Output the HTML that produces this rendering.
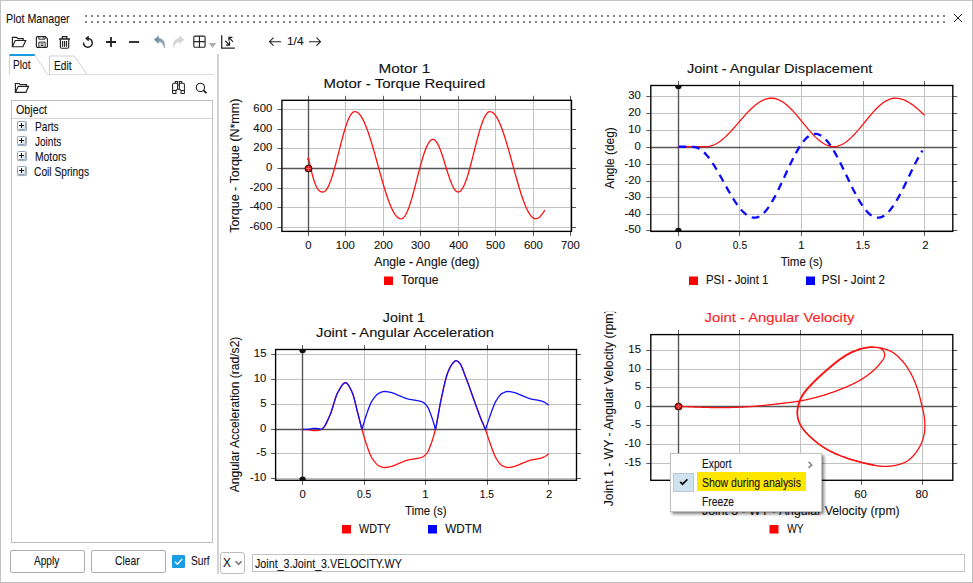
<!DOCTYPE html>
<html lang="en">
<head>
<meta charset="utf-8">
<title>Plot Manager</title>
<style>
html,body{margin:0;padding:0;}
body{width:973px;height:583px;background:#fff;position:relative;overflow:hidden;font-family:"Liberation Sans", Arial, sans-serif;font-size:11.5px;color:#0c0c28;}
.abs{position:absolute;}
.t{position:absolute;white-space:nowrap;line-height:14px;height:14px;transform-origin:0 0;color:#101018;-webkit-text-stroke:0.1px #101018;}
#win{position:absolute;left:0;top:0;width:971px;height:581px;border:1px solid #c4c4c4;border-right-color:#bbb;border-bottom-color:#bbb;}
#charts{position:absolute;left:0;top:0;}
#charts text{font-family:"Liberation Sans", Arial, sans-serif;stroke-width:0.1px;}
#tree{position:absolute;left:11px;top:100px;width:200px;height:441px;border:1px solid #bfbfbf;background:#fff;}
#tree .hdr{position:absolute;left:0;top:0;right:0;height:17px;border-bottom:1px solid #d6d6d6;}
.exp{position:absolute;left:17px;width:7px;height:7px;border:1px solid #93a4b7;border-radius:1.5px;background:linear-gradient(135deg,#fff 35%,#d3dbe4);box-shadow:0.6px 0.8px 0.8px rgba(80,100,125,0.55);}
.exp:before{content:"";position:absolute;left:1px;top:3px;width:5px;height:1px;background:#111;}
.exp:after{content:"";position:absolute;left:3px;top:1px;width:1px;height:5px;background:#111;}
.btn{position:absolute;top:550px;height:21px;width:73px;border:1px solid #adadad;border-radius:2px;background:#fff;}
#split{position:absolute;left:217px;top:54px;width:2px;height:520px;background:#d4d4d4;}
#menu{position:absolute;left:670px;top:453px;width:150px;height:57px;border:1px solid #c2c2c2;background:#fff;box-shadow:2px 2px 3px rgba(0,0,0,0.5);}
</style>
</head>
<body>
<div id="win"></div>
<svg class="abs" style="left:85px;top:15px" width="862" height="8"><defs><pattern id="gp" width="6" height="6" patternUnits="userSpaceOnUse"><rect width="2" height="2" fill="#858585"/></pattern></defs><rect width="860" height="8" fill="url(#gp)"/></svg>
<svg class="abs" style="left:952px;top:12px" width="12" height="12" viewBox="0 0 12 12"><path d="M2 2 L10 10 M10 2 L2 10" stroke="#222" stroke-width="1" fill="none"/></svg>

<!-- toolbar -->
<svg id="toolbar" class="abs" style="left:0;top:30px" width="340" height="24" viewBox="0 30 340 24" fill="none" stroke="#222" stroke-width="1.2">
  <defs><linearGradient id="ug" x1="0" y1="0" x2="1" y2="1"><stop offset="0" stop-color="#5f7f92"/><stop offset="1" stop-color="#a9bcc8"/></linearGradient></defs>
  <!-- open folder -->
  <path d="M12.4 46.7 V37.3 H16.8 L17.8 38.6 H23.2 V40.4 M12.4 46.7 L15.2 40.5 H25.7 L22.9 46.7 Z" stroke-width="1.15"/>
  <!-- save -->
  <path d="M37.4 36.6 H45.3 L47.4 38.7 V46.3 Q47.4 47.3 46.4 47.3 H37.4 Q36.4 47.3 36.4 46.3 V37.6 Q36.4 36.6 37.4 36.6 Z " stroke-width="1.15"/>
  <path d="M38.9 36.6 V39.2 H45.1 V36.6 M43.3 37.2 V38.5 M38.9 47.3 V42.1 H45.1 V47.3 M40.6 43.9 H43.5 M40.6 45.5 H43.5" stroke-width="0.95"/>
  <!-- trash -->
  <path d="M59 39 H70 M62.4 38.6 V36.6 H66.8 V38.6" stroke-width="1.3"/>
  <path d="M60.4 39.3 V47 Q60.4 48.2 61.6 48.2 H67.5 Q68.7 48.2 68.7 47 V39.3 M62.6 41 V46.7 M64.55 41 V46.7 M66.5 41 V46.7" stroke-width="1.15"/>
  <!-- reset -->
  <path d="M87.9 38.4 A4.4 4.4 0 1 1 83.5 42.5" stroke-width="1.5"/><path d="M88.4 36.2 L85.6 38.5 L88.4 40.8 Z" stroke-width="0.8" fill="#222"/>
  <!-- plus -->
  <path d="M106 42 H116 M111 37 V47" stroke-width="1.8"/>
  <!-- minus -->
  <path d="M129 42 H139.2" stroke-width="1.8"/>
  <!-- undo -->
  <path d="M154.2 39.7 L158.6 36 V38.4 Q165.6 38.6 164.4 47.6 Q162.8 41.6 158.6 41.3 V43.5 Z" fill="url(#ug)" stroke="#6f8797" stroke-width="0.5"/>
  <!-- redo -->
  <path d="M183.9 39.7 L179.5 36 V38.4 Q172.5 38.6 173.7 47.6 Q175.3 41.6 179.5 41.3 V43.5 Z" fill="#d4d4d4" stroke="#cfcfcf" stroke-width="0.5"/>
  <!-- grid -->
  <rect x="193.8" y="36.1" width="11.3" height="11.1" rx="1.3" stroke-width="1.1"/>
  <path d="M199.45 36.1 V47.2 M193.8 41.65 H205.1" stroke-width="1.1"/>
  <path d="M208.9 42.9 H216.2 L212.55 47.9 Z" fill="#adadad" stroke="none"/>
  <!-- axis/fit -->
  <path d="M221.7 35.2 V48 H234.8" stroke-width="1.25"/>
  <path d="M233 41.8 L229 37.4 M232.4 37.3 H228.9 V40.8 M225.3 40.9 L229.4 45 M226 45.1 H229.5 V41.6" stroke-width="1.2"/>
  <!-- arrows -->
  <path d="M269.5 41.7 H281 M273.5 37.7 L269.5 41.7 L273.5 45.7" stroke-width="1.1"/>
  <path d="M309 41.7 H320.5 M316.5 37.7 L320.5 41.7 L316.5 45.7" stroke-width="1.1"/>
</svg>

<!-- tabs -->
<svg class="abs" style="left:0;top:52px" width="220" height="26" viewBox="0 52 220 26" fill="none">
  <path d="M47 74.5 H214" stroke="#dcdcdc" stroke-width="1"/>
  <path d="M49.5 74.5 V56 H74.4 L87 74.5" stroke="#d0d0d0" stroke-width="1"/>
  <path d="M9.5 75 V55 H34.8 L47.5 74.5" stroke="#d4d4d4" stroke-width="1" fill="#fff"/>
  <path d="M9.5 55 H34.8" stroke="#1b9ce0" stroke-width="2"/>
</svg>

<!-- panel icons -->
<svg class="abs" style="left:0;top:78px" width="220" height="22" viewBox="0 78 220 22" fill="none" stroke="#222" stroke-width="1.15">
  <path d="M15.4 92.4 V83.5 H19 L20 84.5 H26.4 V86.2 M15.4 92.4 L18.2 86.3 H28.6 L25.9 92.4 Z"/>
  <path d="M172.6 93.5 V84.6 Q172.6 83.3 174 83.3 H177.6 V89.2 L175.9 90.5 M172.6 90.5 H175.9 V93.5 H172.6 M184.4 93.5 V84.6 Q184.4 83.3 183 83.3 H179.4 V89.2 L181.1 90.5 M184.4 90.5 H181.1 V93.5 H184.4 M175.3 83.3 V81.5 H177.6 V83.3 M179.4 83.3 V81.5 H181.7 V83.3 M177.6 84.9 H179.4 M177.6 89.2 H179.4" stroke-width="1.05"/>
  <circle cx="200.4" cy="87.4" r="4.1" stroke-width="1.1"/><path d="M203.5 90.4 L206.5 93.2" stroke-width="1.8"/>
</svg>

<div id="tree"><div class="hdr"></div></div>
<span class="exp" style="top:121px"></span>
<span class="exp" style="top:136px"></span>
<span class="exp" style="top:151px"></span>
<span class="exp" style="top:166px"></span>

<div class="btn" style="left:10px;"></div>
<div class="btn" style="left:91px;"></div>
<div class="abs" style="left:172px;top:555px;width:13px;height:13px;background:#1a9de2;border-radius:1px;"></div>
<svg class="abs" style="left:172px;top:555px" width="13" height="13" viewBox="0 0 13 13"><path d="M3 6.7 L5.5 9.2 L10.2 3.9" fill="none" stroke="#fff" stroke-width="1.4"/></svg>
<div id="split"></div>

<div class="abs" style="left:220px;top:552px;width:23px;height:20px;border:1px solid #bdbdbd;border-radius:3px;background:#fff;"></div>
<svg class="abs" style="left:234px;top:559px" width="9" height="8" viewBox="0 0 9 8"><path d="M1.6 2.3 L4.6 5.3 L7.6 2.3" fill="none" stroke="#7a7a7a" stroke-width="1.6"/></svg>
<div class="abs" style="left:252px;top:554px;width:711px;height:16px;border:1px solid #c3c3c3;background:#fff;"></div>
<div class="t" style="left:6.44px;top:11.56px;font-size:12.8px;transform:scaleX(0.8366);">Plot Manager</div>
<div class="t" style="left:13.49px;top:58.16px;font-size:12.8px;transform:scaleX(0.7932);">Plot</div>
<div class="t" style="left:53.69px;top:58.56px;font-size:12.8px;transform:scaleX(0.7932);">Edit</div>
<div class="t" style="left:16.12px;top:103.06px;font-size:12.8px;transform:scaleX(0.8405);">Object</div>
<div class="t" style="left:34.89px;top:120.06px;font-size:12.8px;transform:scaleX(0.7918);">Parts</div>
<div class="t" style="left:35.15px;top:135.06px;font-size:12.8px;transform:scaleX(0.7843);">Joints</div>
<div class="t" style="left:34.88px;top:150.06px;font-size:12.8px;transform:scaleX(0.8052);">Motors</div>
<div class="t" style="left:34.49px;top:165.06px;font-size:12.8px;transform:scaleX(0.7982);">Coil Springs</div>
<div class="t" style="left:34.00px;top:554.06px;font-size:12.8px;transform:scaleX(0.7906);">Apply</div>
<div class="t" style="left:115.09px;top:554.06px;font-size:12.8px;transform:scaleX(0.8031);">Clear</div>
<div class="t" style="left:190.74px;top:554.06px;font-size:12.8px;transform:scaleX(0.7943);">Surf</div>
<div class="t" style="left:222.76px;top:556.06px;font-size:12.8px;transform:scaleX(0.9250);">X</div>
<div class="t" style="left:254.94px;top:557.06px;font-size:12.8px;transform:scaleX(0.8370);">Joint_3.Joint_3.VELOCITY.WY</div>
<div class="t" style="left:286.91px;top:34.38px;font-size:11.3px;transform:scaleX(1.0496);color:#111;">1/4</div>

<svg id="charts" width="973" height="583" viewBox="0 0 973 583">
<clipPath id="c1"><rect x="281.9" y="100.3" width="289.6" height="131.10000000000002"/></clipPath>
<line x1="345.5" y1="100.3" x2="345.5" y2="231.4" stroke="#c2c2c2" stroke-width="1"/>
<line x1="383.5" y1="100.3" x2="383.5" y2="231.4" stroke="#c2c2c2" stroke-width="1"/>
<line x1="420.5" y1="100.3" x2="420.5" y2="231.4" stroke="#c2c2c2" stroke-width="1"/>
<line x1="458.5" y1="100.3" x2="458.5" y2="231.4" stroke="#c2c2c2" stroke-width="1"/>
<line x1="495.5" y1="100.3" x2="495.5" y2="231.4" stroke="#c2c2c2" stroke-width="1"/>
<line x1="533.5" y1="100.3" x2="533.5" y2="231.4" stroke="#c2c2c2" stroke-width="1"/>
<line x1="570.5" y1="100.3" x2="570.5" y2="231.4" stroke="#c2c2c2" stroke-width="1"/>
<line x1="281.9" y1="227.5" x2="571.5" y2="227.5" stroke="#c2c2c2" stroke-width="1"/>
<line x1="281.9" y1="207.5" x2="571.5" y2="207.5" stroke="#c2c2c2" stroke-width="1"/>
<line x1="281.9" y1="188.5" x2="571.5" y2="188.5" stroke="#c2c2c2" stroke-width="1"/>
<line x1="281.9" y1="148.5" x2="571.5" y2="148.5" stroke="#c2c2c2" stroke-width="1"/>
<line x1="281.9" y1="129.5" x2="571.5" y2="129.5" stroke="#c2c2c2" stroke-width="1"/>
<line x1="281.9" y1="109.5" x2="571.5" y2="109.5" stroke="#c2c2c2" stroke-width="1"/>
<line x1="308.5" y1="95.8" x2="308.5" y2="100.3" stroke="#5a5a5a" stroke-width="1"/>
<line x1="308.5" y1="231.4" x2="308.5" y2="235.9" stroke="#5a5a5a" stroke-width="1"/>
<line x1="345.5" y1="95.8" x2="345.5" y2="100.3" stroke="#5a5a5a" stroke-width="1"/>
<line x1="345.5" y1="231.4" x2="345.5" y2="235.9" stroke="#5a5a5a" stroke-width="1"/>
<line x1="383.5" y1="95.8" x2="383.5" y2="100.3" stroke="#5a5a5a" stroke-width="1"/>
<line x1="383.5" y1="231.4" x2="383.5" y2="235.9" stroke="#5a5a5a" stroke-width="1"/>
<line x1="420.5" y1="95.8" x2="420.5" y2="100.3" stroke="#5a5a5a" stroke-width="1"/>
<line x1="420.5" y1="231.4" x2="420.5" y2="235.9" stroke="#5a5a5a" stroke-width="1"/>
<line x1="458.5" y1="95.8" x2="458.5" y2="100.3" stroke="#5a5a5a" stroke-width="1"/>
<line x1="458.5" y1="231.4" x2="458.5" y2="235.9" stroke="#5a5a5a" stroke-width="1"/>
<line x1="495.5" y1="95.8" x2="495.5" y2="100.3" stroke="#5a5a5a" stroke-width="1"/>
<line x1="495.5" y1="231.4" x2="495.5" y2="235.9" stroke="#5a5a5a" stroke-width="1"/>
<line x1="533.5" y1="95.8" x2="533.5" y2="100.3" stroke="#5a5a5a" stroke-width="1"/>
<line x1="533.5" y1="231.4" x2="533.5" y2="235.9" stroke="#5a5a5a" stroke-width="1"/>
<line x1="570.5" y1="95.8" x2="570.5" y2="100.3" stroke="#5a5a5a" stroke-width="1"/>
<line x1="570.5" y1="231.4" x2="570.5" y2="235.9" stroke="#5a5a5a" stroke-width="1"/>
<line x1="277.4" y1="227.5" x2="281.9" y2="227.5" stroke="#5a5a5a" stroke-width="1"/>
<line x1="571.5" y1="227.5" x2="576.0" y2="227.5" stroke="#5a5a5a" stroke-width="1"/>
<line x1="277.4" y1="207.5" x2="281.9" y2="207.5" stroke="#5a5a5a" stroke-width="1"/>
<line x1="571.5" y1="207.5" x2="576.0" y2="207.5" stroke="#5a5a5a" stroke-width="1"/>
<line x1="277.4" y1="188.5" x2="281.9" y2="188.5" stroke="#5a5a5a" stroke-width="1"/>
<line x1="571.5" y1="188.5" x2="576.0" y2="188.5" stroke="#5a5a5a" stroke-width="1"/>
<line x1="277.4" y1="168.5" x2="281.9" y2="168.5" stroke="#5a5a5a" stroke-width="1"/>
<line x1="571.5" y1="168.5" x2="576.0" y2="168.5" stroke="#5a5a5a" stroke-width="1"/>
<line x1="277.4" y1="148.5" x2="281.9" y2="148.5" stroke="#5a5a5a" stroke-width="1"/>
<line x1="571.5" y1="148.5" x2="576.0" y2="148.5" stroke="#5a5a5a" stroke-width="1"/>
<line x1="277.4" y1="129.5" x2="281.9" y2="129.5" stroke="#5a5a5a" stroke-width="1"/>
<line x1="571.5" y1="129.5" x2="576.0" y2="129.5" stroke="#5a5a5a" stroke-width="1"/>
<line x1="277.4" y1="109.5" x2="281.9" y2="109.5" stroke="#5a5a5a" stroke-width="1"/>
<line x1="571.5" y1="109.5" x2="576.0" y2="109.5" stroke="#5a5a5a" stroke-width="1"/>
<line x1="281.9" y1="168.5" x2="571.5" y2="168.5" stroke="#565656" stroke-width="1.4"/>
<line x1="308.5" y1="100.3" x2="308.5" y2="231.4" stroke="#565656" stroke-width="1.4"/>
<path d="M307.70,158.20 L308.00,159.50 L308.50,158.00 L309.22,161.43 L309.94,164.75 L310.66,167.94 L311.38,170.97 L312.10,173.84 L312.82,176.52 L313.54,178.99 L314.26,181.26 L314.98,183.30 L315.70,185.11 L316.42,186.69 L317.14,188.05 L317.86,189.18 L318.58,190.09 L319.30,190.80 L320.02,191.33 L320.74,191.68 L321.46,191.89 L322.18,191.98 L322.90,192.00 L323.70,191.88 L324.50,191.51 L325.29,190.89 L326.09,190.03 L326.89,188.94 L327.69,187.62 L328.48,186.08 L329.28,184.32 L330.08,182.37 L330.88,180.23 L331.67,177.91 L332.47,175.43 L333.27,172.80 L334.06,170.05 L334.86,167.18 L335.66,164.22 L336.46,161.18 L337.25,158.09 L338.05,154.95 L338.85,151.80 L339.65,148.65 L340.44,145.51 L341.24,142.42 L342.04,139.38 L342.84,136.42 L343.63,133.55 L344.43,130.80 L345.23,128.17 L346.03,125.69 L346.82,123.37 L347.62,121.23 L348.42,119.28 L349.22,117.52 L350.01,115.98 L350.81,114.66 L351.61,113.57 L352.41,112.71 L353.21,112.09 L354.00,111.72 L354.80,111.60 L355.95,111.77 L357.11,112.26 L358.26,113.08 L359.42,114.22 L360.57,115.68 L361.73,117.44 L362.88,119.50 L364.04,121.84 L365.19,124.44 L366.35,127.30 L367.50,130.39 L368.66,133.69 L369.81,137.19 L370.97,140.87 L372.12,144.69 L373.28,148.64 L374.44,152.69 L375.59,156.82 L376.75,160.99 L377.90,165.20 L379.06,169.41 L380.21,173.58 L381.37,177.71 L382.52,181.76 L383.68,185.71 L384.83,189.53 L385.99,193.21 L387.14,196.71 L388.30,200.01 L389.45,203.10 L390.61,205.96 L391.76,208.56 L392.92,210.90 L394.07,212.96 L395.23,214.72 L396.38,216.18 L397.54,217.32 L398.69,218.14 L399.85,218.63 L401.00,218.80 L401.80,218.68 L402.60,218.31 L403.39,217.70 L404.19,216.86 L404.99,215.78 L405.79,214.47 L406.58,212.95 L407.38,211.22 L408.18,209.29 L408.98,207.17 L409.77,204.88 L410.57,202.44 L411.37,199.84 L412.17,197.12 L412.96,194.29 L413.76,191.37 L414.56,188.37 L415.36,185.31 L416.15,182.21 L416.95,179.10 L417.75,175.99 L418.54,172.89 L419.34,169.83 L420.14,166.83 L420.94,163.91 L421.74,161.08 L422.53,158.36 L423.33,155.76 L424.13,153.32 L424.92,151.03 L425.72,148.91 L426.52,146.98 L427.32,145.25 L428.12,143.73 L428.91,142.42 L429.71,141.34 L430.51,140.50 L431.31,139.89 L432.10,139.52 L432.90,139.40 L433.53,139.48 L434.16,139.72 L434.80,140.13 L435.43,140.69 L436.06,141.40 L436.69,142.27 L437.33,143.28 L437.96,144.42 L438.59,145.70 L439.22,147.10 L439.86,148.62 L440.49,150.24 L441.12,151.96 L441.75,153.76 L442.39,155.64 L443.02,157.57 L443.65,159.56 L444.28,161.59 L444.92,163.64 L445.55,165.70 L446.18,167.76 L446.81,169.81 L447.45,171.84 L448.08,173.83 L448.71,175.76 L449.34,177.64 L449.98,179.44 L450.61,181.16 L451.24,182.78 L451.88,184.30 L452.51,185.70 L453.14,186.98 L453.77,188.12 L454.40,189.13 L455.04,190.00 L455.67,190.71 L456.30,191.27 L456.94,191.68 L457.57,191.92 L458.20,192.00 L458.99,191.88 L459.78,191.51 L460.58,190.89 L461.37,190.03 L462.16,188.94 L462.95,187.62 L463.75,186.08 L464.54,184.32 L465.33,182.37 L466.12,180.23 L466.92,177.91 L467.71,175.43 L468.50,172.80 L469.29,170.05 L470.09,167.18 L470.88,164.22 L471.67,161.18 L472.46,158.09 L473.26,154.95 L474.05,151.80 L474.84,148.65 L475.63,145.51 L476.43,142.42 L477.22,139.38 L478.01,136.42 L478.81,133.55 L479.60,130.80 L480.39,128.17 L481.18,125.69 L481.97,123.37 L482.77,121.23 L483.56,119.28 L484.35,117.52 L485.14,115.98 L485.94,114.66 L486.73,113.57 L487.52,112.71 L488.31,112.09 L489.11,111.72 L489.90,111.60 L491.05,111.77 L492.19,112.26 L493.34,113.08 L494.49,114.22 L495.64,115.68 L496.78,117.44 L497.93,119.50 L499.08,121.84 L500.23,124.44 L501.38,127.30 L502.52,130.39 L503.67,133.69 L504.82,137.19 L505.96,140.87 L507.11,144.69 L508.26,148.64 L509.41,152.69 L510.55,156.82 L511.70,160.99 L512.85,165.20 L514.00,169.41 L515.14,173.58 L516.29,177.71 L517.44,181.76 L518.59,185.71 L519.74,189.53 L520.88,193.21 L522.03,196.71 L523.18,200.01 L524.32,203.10 L525.47,205.96 L526.62,208.56 L527.77,210.90 L528.91,212.96 L530.06,214.72 L531.21,216.18 L532.36,217.32 L533.50,218.14 L534.65,218.63 L535.80,218.80 L536.61,218.69 L537.42,218.40 L538.23,217.97 L539.04,217.41 L539.85,216.72 L540.65,215.91 L541.46,214.99 L542.27,213.95 L543.08,212.81 L543.89,211.56 L544.70,210.20" fill="none" stroke="#ff1010" stroke-width="1.3" stroke-linejoin="round" clip-path="url(#c1)"/>
<rect x="281.9" y="100.3" width="289.6" height="131.10000000000002" fill="none" stroke="#000" stroke-width="1.35"/>
<circle cx="308.5" cy="168.5" r="3.3" fill="#ff0808" stroke="#3a0808" stroke-width="1.1"/><path d="M305.9 168.5 h5.2 M308.5 165.9 v5.2" stroke="#e06a6a" stroke-width="0.9" fill="none"/>
<text x="249.54" y="230.2" font-size="11" fill="#111" stroke="#111" textLength="22.68" lengthAdjust="spacingAndGlyphs">-600</text>
<text x="249.54" y="210.2" font-size="11" fill="#111" stroke="#111" textLength="22.68" lengthAdjust="spacingAndGlyphs">-400</text>
<text x="249.54" y="191.2" font-size="11" fill="#111" stroke="#111" textLength="22.68" lengthAdjust="spacingAndGlyphs">-200</text>
<text x="265.91" y="171.2" font-size="11" fill="#111" stroke="#111" textLength="6.30" lengthAdjust="spacingAndGlyphs">0</text>
<text x="253.33" y="151.2" font-size="11" fill="#111" stroke="#111" textLength="18.90" lengthAdjust="spacingAndGlyphs">200</text>
<text x="253.33" y="132.2" font-size="11" fill="#111" stroke="#111" textLength="18.90" lengthAdjust="spacingAndGlyphs">400</text>
<text x="253.33" y="112.2" font-size="11" fill="#111" stroke="#111" textLength="18.90" lengthAdjust="spacingAndGlyphs">600</text>
<text x="305.36" y="249.0" font-size="11" fill="#111" stroke="#111" textLength="6.30" lengthAdjust="spacingAndGlyphs">0</text>
<text x="335.84" y="249.0" font-size="11" fill="#111" stroke="#111" textLength="18.90" lengthAdjust="spacingAndGlyphs">100</text>
<text x="373.98" y="249.0" font-size="11" fill="#111" stroke="#111" textLength="18.90" lengthAdjust="spacingAndGlyphs">200</text>
<text x="411.07" y="249.0" font-size="11" fill="#111" stroke="#111" textLength="18.90" lengthAdjust="spacingAndGlyphs">300</text>
<text x="449.15" y="249.0" font-size="11" fill="#111" stroke="#111" textLength="18.90" lengthAdjust="spacingAndGlyphs">400</text>
<text x="486.04" y="249.0" font-size="11" fill="#111" stroke="#111" textLength="18.90" lengthAdjust="spacingAndGlyphs">500</text>
<text x="523.98" y="249.0" font-size="11" fill="#111" stroke="#111" textLength="18.90" lengthAdjust="spacingAndGlyphs">600</text>
<text x="560.98" y="249.0" font-size="11" fill="#111" stroke="#111" textLength="18.90" lengthAdjust="spacingAndGlyphs">700</text>
<text x="378.47" y="73.0" font-size="13.5" fill="#111" stroke="#111" textLength="51.92" lengthAdjust="spacingAndGlyphs">Motor 1</text>
<text x="323.50" y="87.7" font-size="13.5" fill="#111" stroke="#111" textLength="161.70" lengthAdjust="spacingAndGlyphs">Motor - Torque Required</text>
<text x="374.20" y="265.8" font-size="12" fill="#111" stroke="#111" textLength="105.19" lengthAdjust="spacingAndGlyphs">Angle - Angle (deg)</text>
<rect x="384" y="276.5" width="9" height="8.5" fill="#ff0000"/>
<text x="401.36" y="283.7" font-size="12" fill="#111" stroke="#111" textLength="37.16" lengthAdjust="spacingAndGlyphs">Torque</text>
<g><text transform="translate(239.0,232.65) rotate(-90)" font-size="12" fill="#111" stroke="#111" textLength="133.97" lengthAdjust="spacingAndGlyphs">Torque - Torque (N*mm)</text></g>
<clipPath id="c2"><rect x="650.8" y="85.5" width="302.0" height="145.9"/></clipPath>
<line x1="739.5" y1="85.5" x2="739.5" y2="231.4" stroke="#c2c2c2" stroke-width="1"/>
<line x1="801.5" y1="85.5" x2="801.5" y2="231.4" stroke="#c2c2c2" stroke-width="1"/>
<line x1="863.5" y1="85.5" x2="863.5" y2="231.4" stroke="#c2c2c2" stroke-width="1"/>
<line x1="924.5" y1="85.5" x2="924.5" y2="231.4" stroke="#c2c2c2" stroke-width="1"/>
<line x1="650.8" y1="230.5" x2="952.8" y2="230.5" stroke="#c2c2c2" stroke-width="1"/>
<line x1="650.8" y1="214.5" x2="952.8" y2="214.5" stroke="#c2c2c2" stroke-width="1"/>
<line x1="650.8" y1="197.5" x2="952.8" y2="197.5" stroke="#c2c2c2" stroke-width="1"/>
<line x1="650.8" y1="181.5" x2="952.8" y2="181.5" stroke="#c2c2c2" stroke-width="1"/>
<line x1="650.8" y1="164.5" x2="952.8" y2="164.5" stroke="#c2c2c2" stroke-width="1"/>
<line x1="650.8" y1="130.5" x2="952.8" y2="130.5" stroke="#c2c2c2" stroke-width="1"/>
<line x1="650.8" y1="113.5" x2="952.8" y2="113.5" stroke="#c2c2c2" stroke-width="1"/>
<line x1="650.8" y1="96.5" x2="952.8" y2="96.5" stroke="#c2c2c2" stroke-width="1"/>
<line x1="678.5" y1="81.0" x2="678.5" y2="85.5" stroke="#5a5a5a" stroke-width="1"/>
<line x1="678.5" y1="231.4" x2="678.5" y2="235.9" stroke="#5a5a5a" stroke-width="1"/>
<line x1="739.5" y1="81.0" x2="739.5" y2="85.5" stroke="#5a5a5a" stroke-width="1"/>
<line x1="739.5" y1="231.4" x2="739.5" y2="235.9" stroke="#5a5a5a" stroke-width="1"/>
<line x1="801.5" y1="81.0" x2="801.5" y2="85.5" stroke="#5a5a5a" stroke-width="1"/>
<line x1="801.5" y1="231.4" x2="801.5" y2="235.9" stroke="#5a5a5a" stroke-width="1"/>
<line x1="863.5" y1="81.0" x2="863.5" y2="85.5" stroke="#5a5a5a" stroke-width="1"/>
<line x1="863.5" y1="231.4" x2="863.5" y2="235.9" stroke="#5a5a5a" stroke-width="1"/>
<line x1="924.5" y1="81.0" x2="924.5" y2="85.5" stroke="#5a5a5a" stroke-width="1"/>
<line x1="924.5" y1="231.4" x2="924.5" y2="235.9" stroke="#5a5a5a" stroke-width="1"/>
<line x1="646.3" y1="230.5" x2="650.8" y2="230.5" stroke="#5a5a5a" stroke-width="1"/>
<line x1="952.8" y1="230.5" x2="957.3" y2="230.5" stroke="#5a5a5a" stroke-width="1"/>
<line x1="646.3" y1="214.5" x2="650.8" y2="214.5" stroke="#5a5a5a" stroke-width="1"/>
<line x1="952.8" y1="214.5" x2="957.3" y2="214.5" stroke="#5a5a5a" stroke-width="1"/>
<line x1="646.3" y1="197.5" x2="650.8" y2="197.5" stroke="#5a5a5a" stroke-width="1"/>
<line x1="952.8" y1="197.5" x2="957.3" y2="197.5" stroke="#5a5a5a" stroke-width="1"/>
<line x1="646.3" y1="181.5" x2="650.8" y2="181.5" stroke="#5a5a5a" stroke-width="1"/>
<line x1="952.8" y1="181.5" x2="957.3" y2="181.5" stroke="#5a5a5a" stroke-width="1"/>
<line x1="646.3" y1="164.5" x2="650.8" y2="164.5" stroke="#5a5a5a" stroke-width="1"/>
<line x1="952.8" y1="164.5" x2="957.3" y2="164.5" stroke="#5a5a5a" stroke-width="1"/>
<line x1="646.3" y1="147.5" x2="650.8" y2="147.5" stroke="#5a5a5a" stroke-width="1"/>
<line x1="952.8" y1="147.5" x2="957.3" y2="147.5" stroke="#5a5a5a" stroke-width="1"/>
<line x1="646.3" y1="130.5" x2="650.8" y2="130.5" stroke="#5a5a5a" stroke-width="1"/>
<line x1="952.8" y1="130.5" x2="957.3" y2="130.5" stroke="#5a5a5a" stroke-width="1"/>
<line x1="646.3" y1="113.5" x2="650.8" y2="113.5" stroke="#5a5a5a" stroke-width="1"/>
<line x1="952.8" y1="113.5" x2="957.3" y2="113.5" stroke="#5a5a5a" stroke-width="1"/>
<line x1="646.3" y1="96.5" x2="650.8" y2="96.5" stroke="#5a5a5a" stroke-width="1"/>
<line x1="952.8" y1="96.5" x2="957.3" y2="96.5" stroke="#5a5a5a" stroke-width="1"/>
<line x1="650.8" y1="147.5" x2="952.8" y2="147.5" stroke="#565656" stroke-width="1.4"/>
<line x1="678.5" y1="85.5" x2="678.5" y2="231.4" stroke="#565656" stroke-width="1.4"/>
<path d="M678.50,146.80 L679.19,146.80 L679.88,146.80 L680.56,146.80 L681.25,146.80 L681.94,146.79 L682.62,146.79 L683.31,146.79 L684.00,146.78 L684.69,146.78 L685.38,146.77 L686.06,146.76 L686.75,146.76 L687.44,146.75 L688.12,146.75 L688.81,146.74 L689.50,146.73 L690.19,146.72 L690.88,146.72 L691.56,146.71 L692.25,146.70 L692.94,146.69 L693.62,146.68 L694.31,146.68 L695.00,146.67 L695.69,146.66 L696.38,146.65 L697.06,146.65 L697.75,146.64 L698.44,146.64 L699.12,146.63 L699.81,146.62 L700.50,146.62 L701.19,146.61 L701.88,146.61 L702.56,146.61 L703.25,146.60 L703.94,146.60 L704.62,146.60 L705.31,146.60 L706.00,146.60 L707.64,146.53 L709.27,146.30 L710.91,145.93 L712.55,145.42 L714.19,144.76 L715.83,143.96 L717.46,143.03 L719.10,141.98 L720.74,140.80 L722.38,139.51 L724.01,138.12 L725.65,136.62 L727.29,135.04 L728.92,133.39 L730.56,131.66 L732.20,129.88 L733.84,128.05 L735.48,126.19 L737.11,124.30 L738.75,122.40 L740.39,120.50 L742.02,118.61 L743.66,116.75 L745.30,114.92 L746.94,113.14 L748.58,111.41 L750.21,109.76 L751.85,108.18 L753.49,106.68 L755.12,105.29 L756.76,104.00 L758.40,102.82 L760.04,101.77 L761.67,100.84 L763.31,100.04 L764.95,99.38 L766.59,98.87 L768.23,98.50 L769.86,98.27 L771.50,98.20 L773.05,98.27 L774.61,98.50 L776.16,98.87 L777.72,99.38 L779.27,100.04 L780.83,100.84 L782.38,101.77 L783.94,102.82 L785.50,104.00 L787.05,105.29 L788.61,106.68 L790.16,108.18 L791.72,109.76 L793.27,111.41 L794.83,113.14 L796.38,114.92 L797.94,116.75 L799.49,118.61 L801.05,120.50 L802.60,122.40 L804.15,124.30 L805.71,126.19 L807.26,128.05 L808.82,129.88 L810.38,131.66 L811.93,133.39 L813.49,135.04 L815.04,136.62 L816.60,138.12 L818.15,139.51 L819.71,140.80 L821.26,141.98 L822.82,143.03 L824.37,143.96 L825.93,144.76 L827.48,145.42 L829.04,145.93 L830.59,146.30 L832.15,146.53 L833.70,146.60 L835.24,146.53 L836.79,146.30 L838.33,145.93 L839.87,145.42 L841.41,144.76 L842.96,143.96 L844.50,143.03 L846.04,141.98 L847.58,140.80 L849.12,139.51 L850.67,138.12 L852.21,136.62 L853.75,135.04 L855.30,133.39 L856.84,131.66 L858.38,129.88 L859.92,128.05 L861.47,126.19 L863.01,124.30 L864.55,122.40 L866.09,120.50 L867.63,118.61 L869.18,116.75 L870.72,114.92 L872.26,113.14 L873.80,111.41 L875.35,109.76 L876.89,108.18 L878.43,106.68 L879.98,105.29 L881.52,104.00 L883.06,102.82 L884.60,101.77 L886.14,100.84 L887.69,100.04 L889.23,99.38 L890.77,98.87 L892.31,98.50 L893.86,98.27 L895.40,98.20 L896.41,98.22 L897.41,98.30 L898.42,98.42 L899.43,98.59 L900.43,98.81 L901.44,99.07 L902.45,99.39 L903.46,99.75 L904.46,100.15 L905.47,100.60 L906.48,101.09 L907.48,101.62 L908.49,102.19 L909.50,102.80 L910.50,103.45 L911.51,104.13 L912.52,104.84 L913.52,105.59 L914.53,106.37 L915.54,107.17 L916.54,108.00 L917.55,108.86 L918.56,109.73 L919.57,110.63 L920.57,111.54 L921.58,112.46 L922.59,113.40 L923.59,114.35 L924.60,115.30" fill="none" stroke="#ff1010" stroke-width="1.3" clip-path="url(#c2)"/>
<path d="M678.50,146.60 L693.00,146.90 L694.54,147.01 L696.08,147.34 L697.62,147.88 L699.16,148.63 L700.70,149.59 L702.24,150.76 L703.78,152.12 L705.32,153.66 L706.86,155.38 L708.40,157.27 L709.94,159.31 L711.48,161.49 L713.02,163.80 L714.56,166.23 L716.10,168.75 L717.64,171.36 L719.18,174.04 L720.72,176.76 L722.26,179.52 L723.80,182.30 L725.34,185.08 L726.88,187.84 L728.42,190.56 L729.96,193.24 L731.50,195.85 L733.04,198.37 L734.58,200.80 L736.12,203.11 L737.66,205.29 L739.20,207.33 L740.74,209.22 L742.28,210.94 L743.82,212.48 L745.36,213.84 L746.90,215.01 L748.44,215.97 L749.98,216.72 L751.52,217.26 L753.06,217.59 L754.60,217.70 L756.12,217.57 L757.63,217.18 L759.14,216.54 L760.66,215.65 L762.18,214.51 L763.69,213.13 L765.21,211.52 L766.72,209.69 L768.24,207.65 L769.75,205.41 L771.26,202.99 L772.78,200.41 L774.30,197.67 L775.81,194.79 L777.33,191.80 L778.84,188.71 L780.36,185.54 L781.87,182.31 L783.38,179.04 L784.90,175.75 L786.42,172.46 L787.93,169.19 L789.45,165.96 L790.96,162.79 L792.48,159.70 L793.99,156.71 L795.50,153.83 L797.02,151.09 L798.54,148.51 L800.05,146.09 L801.57,143.85 L803.08,141.81 L804.60,139.98 L806.11,138.37 L807.62,136.99 L809.14,135.85 L810.66,134.96 L812.17,134.32 L813.69,133.93 L815.20,133.80 L816.77,133.93 L818.34,134.32 L819.90,134.96 L821.47,135.85 L823.04,136.99 L824.61,138.37 L826.17,139.98 L827.74,141.81 L829.31,143.85 L830.88,146.09 L832.44,148.51 L834.01,151.09 L835.58,153.83 L837.14,156.71 L838.71,159.70 L840.28,162.79 L841.85,165.96 L843.41,169.19 L844.98,172.46 L846.55,175.75 L848.12,179.04 L849.69,182.31 L851.25,185.54 L852.82,188.71 L854.39,191.80 L855.96,194.79 L857.52,197.67 L859.09,200.41 L860.66,202.99 L862.23,205.41 L863.79,207.65 L865.36,209.69 L866.93,211.52 L868.50,213.13 L870.06,214.51 L871.63,215.65 L873.20,216.54 L874.76,217.18 L876.33,217.57 L877.90,217.70 L879.43,217.58 L880.97,217.20 L882.50,216.59 L884.04,215.73 L885.57,214.63 L887.11,213.31 L888.64,211.76 L890.18,210.00 L891.71,208.04 L893.24,205.88 L894.78,203.55 L896.31,201.06 L897.85,198.42 L899.38,195.65 L900.92,192.76 L902.45,189.77 L903.99,186.70 L905.52,183.57 L907.06,180.40 L908.59,177.20 L910.12,174.00 L911.66,170.82 L913.19,167.66 L914.73,164.57 L916.26,161.54 L917.80,158.60 L919.33,155.77 L920.87,153.06 L922.40,150.50" fill="none" stroke="#0a0aff" stroke-width="2.3" stroke-dasharray="7.8 5.8" clip-path="url(#c2)"/>
<rect x="650.8" y="85.5" width="302.0" height="145.9" fill="none" stroke="#000" stroke-width="1.35"/>
<circle cx="678.4" cy="86.0" r="3.2" fill="#111" clip-path="url(#c2)"/>
<circle cx="678.4" cy="230.9" r="3.2" fill="#111" clip-path="url(#c2)"/>
<text x="624.52" y="233.2" font-size="11" fill="#111" stroke="#111" textLength="16.38" lengthAdjust="spacingAndGlyphs">-50</text>
<text x="624.52" y="217.2" font-size="11" fill="#111" stroke="#111" textLength="16.38" lengthAdjust="spacingAndGlyphs">-40</text>
<text x="624.52" y="200.2" font-size="11" fill="#111" stroke="#111" textLength="16.38" lengthAdjust="spacingAndGlyphs">-30</text>
<text x="624.52" y="184.2" font-size="11" fill="#111" stroke="#111" textLength="16.38" lengthAdjust="spacingAndGlyphs">-20</text>
<text x="624.52" y="167.2" font-size="11" fill="#111" stroke="#111" textLength="16.38" lengthAdjust="spacingAndGlyphs">-10</text>
<text x="634.61" y="150.2" font-size="11" fill="#111" stroke="#111" textLength="6.30" lengthAdjust="spacingAndGlyphs">0</text>
<text x="628.32" y="133.2" font-size="11" fill="#111" stroke="#111" textLength="12.60" lengthAdjust="spacingAndGlyphs">10</text>
<text x="628.32" y="116.2" font-size="11" fill="#111" stroke="#111" textLength="12.60" lengthAdjust="spacingAndGlyphs">20</text>
<text x="628.32" y="99.2" font-size="11" fill="#111" stroke="#111" textLength="12.60" lengthAdjust="spacingAndGlyphs">30</text>
<text x="675.26" y="249.0" font-size="11" fill="#111" stroke="#111" textLength="6.30" lengthAdjust="spacingAndGlyphs">0</text>
<text x="732.87" y="249.0" font-size="11" fill="#111" stroke="#111" textLength="14.22" lengthAdjust="spacingAndGlyphs">0.5</text>
<text x="798.19" y="249.0" font-size="11" fill="#111" stroke="#111" textLength="6.30" lengthAdjust="spacingAndGlyphs">1</text>
<text x="855.76" y="249.0" font-size="11" fill="#111" stroke="#111" textLength="14.22" lengthAdjust="spacingAndGlyphs">1.5</text>
<text x="922.23" y="249.0" font-size="11" fill="#111" stroke="#111" textLength="6.30" lengthAdjust="spacingAndGlyphs">2</text>
<text x="686.98" y="72.9" font-size="13.5" fill="#111" stroke="#111" textLength="185.35" lengthAdjust="spacingAndGlyphs">Joint - Angular Displacement</text>
<text x="780.67" y="265.8" font-size="12" fill="#111" stroke="#111" textLength="41.91" lengthAdjust="spacingAndGlyphs">Time (s)</text>
<rect x="689" y="276.5" width="9" height="8.5" fill="#ff0000"/>
<text x="705.98" y="283.7" font-size="12" fill="#111" stroke="#111" textLength="62.45" lengthAdjust="spacingAndGlyphs">PSI - Joint 1</text>
<rect x="806" y="276.5" width="9" height="8.5" fill="#0000ff"/>
<text x="821.87" y="283.7" font-size="12" fill="#111" stroke="#111" textLength="63.17" lengthAdjust="spacingAndGlyphs">PSI - Joint 2</text>
<g><text transform="translate(614.3,188.70) rotate(-90)" font-size="12" fill="#111" stroke="#111" textLength="61.41" lengthAdjust="spacingAndGlyphs">Angle (deg)</text></g>
<clipPath id="c3"><rect x="275.6" y="349.5" width="300.9" height="130.8"/></clipPath>
<line x1="364.5" y1="349.5" x2="364.5" y2="480.3" stroke="#c2c2c2" stroke-width="1"/>
<line x1="425.5" y1="349.5" x2="425.5" y2="480.3" stroke="#c2c2c2" stroke-width="1"/>
<line x1="487.5" y1="349.5" x2="487.5" y2="480.3" stroke="#c2c2c2" stroke-width="1"/>
<line x1="548.5" y1="349.5" x2="548.5" y2="480.3" stroke="#c2c2c2" stroke-width="1"/>
<line x1="275.6" y1="478.5" x2="576.5" y2="478.5" stroke="#c2c2c2" stroke-width="1"/>
<line x1="275.6" y1="453.5" x2="576.5" y2="453.5" stroke="#c2c2c2" stroke-width="1"/>
<line x1="275.6" y1="404.5" x2="576.5" y2="404.5" stroke="#c2c2c2" stroke-width="1"/>
<line x1="275.6" y1="379.5" x2="576.5" y2="379.5" stroke="#c2c2c2" stroke-width="1"/>
<line x1="275.6" y1="354.5" x2="576.5" y2="354.5" stroke="#c2c2c2" stroke-width="1"/>
<line x1="302.5" y1="345.0" x2="302.5" y2="349.5" stroke="#5a5a5a" stroke-width="1"/>
<line x1="302.5" y1="480.3" x2="302.5" y2="484.8" stroke="#5a5a5a" stroke-width="1"/>
<line x1="364.5" y1="345.0" x2="364.5" y2="349.5" stroke="#5a5a5a" stroke-width="1"/>
<line x1="364.5" y1="480.3" x2="364.5" y2="484.8" stroke="#5a5a5a" stroke-width="1"/>
<line x1="425.5" y1="345.0" x2="425.5" y2="349.5" stroke="#5a5a5a" stroke-width="1"/>
<line x1="425.5" y1="480.3" x2="425.5" y2="484.8" stroke="#5a5a5a" stroke-width="1"/>
<line x1="487.5" y1="345.0" x2="487.5" y2="349.5" stroke="#5a5a5a" stroke-width="1"/>
<line x1="487.5" y1="480.3" x2="487.5" y2="484.8" stroke="#5a5a5a" stroke-width="1"/>
<line x1="548.5" y1="345.0" x2="548.5" y2="349.5" stroke="#5a5a5a" stroke-width="1"/>
<line x1="548.5" y1="480.3" x2="548.5" y2="484.8" stroke="#5a5a5a" stroke-width="1"/>
<line x1="271.1" y1="478.5" x2="275.6" y2="478.5" stroke="#5a5a5a" stroke-width="1"/>
<line x1="576.5" y1="478.5" x2="581.0" y2="478.5" stroke="#5a5a5a" stroke-width="1"/>
<line x1="271.1" y1="453.5" x2="275.6" y2="453.5" stroke="#5a5a5a" stroke-width="1"/>
<line x1="576.5" y1="453.5" x2="581.0" y2="453.5" stroke="#5a5a5a" stroke-width="1"/>
<line x1="271.1" y1="429.5" x2="275.6" y2="429.5" stroke="#5a5a5a" stroke-width="1"/>
<line x1="576.5" y1="429.5" x2="581.0" y2="429.5" stroke="#5a5a5a" stroke-width="1"/>
<line x1="271.1" y1="404.5" x2="275.6" y2="404.5" stroke="#5a5a5a" stroke-width="1"/>
<line x1="576.5" y1="404.5" x2="581.0" y2="404.5" stroke="#5a5a5a" stroke-width="1"/>
<line x1="271.1" y1="379.5" x2="275.6" y2="379.5" stroke="#5a5a5a" stroke-width="1"/>
<line x1="576.5" y1="379.5" x2="581.0" y2="379.5" stroke="#5a5a5a" stroke-width="1"/>
<line x1="271.1" y1="354.5" x2="275.6" y2="354.5" stroke="#5a5a5a" stroke-width="1"/>
<line x1="576.5" y1="354.5" x2="581.0" y2="354.5" stroke="#5a5a5a" stroke-width="1"/>
<line x1="275.6" y1="429.5" x2="576.5" y2="429.5" stroke="#565656" stroke-width="1.4"/>
<line x1="302.5" y1="349.5" x2="302.5" y2="480.3" stroke="#565656" stroke-width="1.4"/>
<path d="M302.70,429.50 L303.11,429.51 L303.52,429.53 L303.93,429.55 L304.34,429.56 L304.75,429.59 L305.16,429.61 L305.57,429.64 L305.98,429.66 L306.39,429.69 L306.81,429.72 L307.22,429.75 L307.63,429.79 L308.04,429.82 L308.45,429.85 L308.86,429.89 L309.27,429.93 L309.68,429.97 L310.09,430.03 L310.50,430.10 L310.91,430.17 L311.32,430.24 L311.73,430.32 L312.14,430.39 L312.55,430.46 L312.96,430.53 L313.37,430.58 L313.78,430.63 L314.19,430.67 L314.61,430.69 L315.02,430.70 L315.43,430.69 L315.84,430.67 L316.25,430.64 L316.66,430.60 L317.07,430.54 L317.48,430.48 L317.89,430.41 L318.30,430.34 L318.71,430.26 L319.12,430.17 L319.53,430.06 L319.94,429.92 L320.35,429.74 L320.76,429.53 L321.17,429.30 L321.58,429.04 L321.99,428.76 L322.40,428.47 L322.82,428.15 L323.23,427.81 L323.64,427.39 L324.05,426.90 L324.46,426.34 L324.87,425.73 L325.28,425.05 L325.69,424.32 L326.10,423.55 L326.51,422.74 L326.92,421.89 L327.33,421.01 L327.74,420.11 L328.15,419.20 L328.56,418.27 L328.97,417.33 L329.38,416.40 L329.79,415.46 L330.20,414.53 L330.62,413.51 L331.03,412.41 L331.44,411.24 L331.85,410.00 L332.26,408.72 L332.67,407.39 L333.08,406.05 L333.49,404.68 L333.90,403.31 L334.31,401.95 L334.72,400.62 L335.13,399.31 L335.54,398.04 L335.95,396.83 L336.36,395.68 L336.77,394.62 L337.18,393.64 L337.59,392.76 L338.00,391.99 L338.42,391.28 L338.83,390.56 L339.24,389.84 L339.65,389.12 L340.06,388.42 L340.47,387.73 L340.88,387.06 L341.29,386.41 L341.70,385.81 L342.11,385.23 L342.52,384.71 L342.93,384.23 L343.34,383.80 L343.75,383.44 L344.16,383.14 L344.57,382.92 L344.98,382.77 L345.39,382.70 L345.80,382.73 L346.21,382.87 L346.63,383.11 L347.04,383.44 L347.45,383.86 L347.86,384.35 L348.27,384.92 L348.68,385.55 L349.09,386.24 L349.50,386.97 L349.91,387.74 L350.32,388.54 L350.73,389.37 L351.14,390.22 L351.55,391.07 L351.96,391.92 L352.37,392.84 L352.78,393.92 L353.19,395.13 L353.60,396.47 L354.01,397.92 L354.43,399.46 L354.84,401.06 L355.25,402.72 L355.66,404.42 L356.07,406.14 L356.48,407.87 L356.89,409.58 L357.30,411.25 L357.71,412.88 L358.12,414.45 L358.53,416.03 L358.94,417.64 L359.35,419.26 L359.76,420.89 L360.17,422.52 L360.58,424.13 L360.99,425.73 L361.40,427.30 L361.81,428.83 L362.23,430.31 L362.64,431.79 L363.05,433.26 L363.46,434.71 L363.87,436.15 L364.28,437.55 L364.69,438.92 L365.10,440.25 L365.51,441.53 L365.92,442.77 L366.33,443.96 L366.74,445.16 L367.15,446.35 L367.56,447.53 L367.97,448.70 L368.38,449.84 L368.79,450.96 L369.20,452.04 L369.61,453.08 L370.02,454.08 L370.44,455.02 L370.85,455.90 L371.26,456.71 L371.67,457.45 L372.08,458.12 L372.49,458.75 L372.90,459.37 L373.31,459.97 L373.72,460.56 L374.13,461.12 L374.54,461.67 L374.95,462.19 L375.36,462.69 L375.77,463.16 L376.18,463.61 L376.59,464.03 L377.00,464.42 L377.41,464.77 L377.82,465.09 L378.24,465.37 L378.65,465.62 L379.06,465.83 L379.47,466.02 L379.88,466.20 L380.29,466.39 L380.70,466.56 L381.11,466.72 L381.52,466.88 L381.93,467.02 L382.34,467.15 L382.75,467.26 L383.16,467.35 L383.57,467.42 L383.98,467.47 L384.39,467.50 L384.80,467.50 L385.21,467.49 L385.62,467.46 L386.04,467.43 L386.45,467.38 L386.86,467.33 L387.27,467.26 L387.68,467.20 L388.09,467.12 L388.50,467.04 L388.91,466.96 L389.32,466.87 L389.73,466.78 L390.14,466.69 L390.55,466.60 L390.96,466.51 L391.37,466.41 L391.78,466.31 L392.19,466.19 L392.60,466.06 L393.01,465.92 L393.42,465.78 L393.83,465.62 L394.25,465.46 L394.66,465.29 L395.07,465.12 L395.48,464.94 L395.89,464.77 L396.30,464.58 L396.71,464.40 L397.12,464.22 L397.53,464.04 L397.94,463.85 L398.35,463.68 L398.76,463.50 L399.17,463.33 L399.58,463.16 L399.99,463.00 L400.40,462.84 L400.81,462.68 L401.22,462.51 L401.63,462.34 L402.05,462.17 L402.46,462.00 L402.87,461.83 L403.28,461.66 L403.69,461.49 L404.10,461.32 L404.51,461.15 L404.92,460.99 L405.33,460.84 L405.74,460.69 L406.15,460.54 L406.56,460.41 L406.97,460.28 L407.38,460.16 L407.79,460.05 L408.20,459.95 L408.61,459.86 L409.02,459.77 L409.43,459.69 L409.85,459.62 L410.26,459.54 L410.67,459.47 L411.08,459.41 L411.49,459.34 L411.90,459.28 L412.31,459.22 L412.72,459.15 L413.13,459.09 L413.54,459.03 L413.95,458.96 L414.36,458.90 L414.77,458.83 L415.18,458.76 L415.59,458.68 L416.00,458.60 L416.41,458.52 L416.82,458.44 L417.23,458.36 L417.64,458.29 L418.06,458.21 L418.47,458.13 L418.88,458.05 L419.29,457.97 L419.70,457.88 L420.11,457.78 L420.52,457.67 L420.93,457.55 L421.34,457.43 L421.75,457.29 L422.16,457.14 L422.57,456.95 L422.98,456.74 L423.39,456.48 L423.80,456.20 L424.21,455.88 L424.62,455.54 L425.03,455.16 L425.44,454.76 L425.86,454.33 L426.27,453.88 L426.68,453.40 L427.09,452.89 L427.50,452.29 L427.91,451.57 L428.32,450.75 L428.73,449.85 L429.14,448.87 L429.55,447.84 L429.96,446.78 L430.37,445.69 L430.78,444.58 L431.19,443.48 L431.60,442.35 L432.01,441.17 L432.42,439.94 L432.83,438.67 L433.24,437.35 L433.66,435.97 L434.07,434.54 L434.48,433.06 L434.89,431.51 L435.30,429.91 L435.71,428.21 L436.12,426.34 L436.53,424.33 L436.94,422.19 L437.35,419.96 L437.76,417.65 L438.17,415.31 L438.58,412.94 L438.99,410.58 L439.40,408.25 L439.81,405.99 L440.22,403.81 L440.63,401.73 L441.04,399.80 L441.45,397.91 L441.87,396.01 L442.28,394.11 L442.69,392.22 L443.10,390.34 L443.51,388.48 L443.92,386.65 L444.33,384.86 L444.74,383.12 L445.15,381.44 L445.56,379.82 L445.97,378.27 L446.38,376.81 L446.79,375.44 L447.20,374.16 L447.61,373.00 L448.02,371.94 L448.43,370.96 L448.84,370.02 L449.25,369.12 L449.67,368.25 L450.08,367.43 L450.49,366.66 L450.90,365.93 L451.31,365.24 L451.72,364.61 L452.13,364.04 L452.54,363.52 L452.95,363.05 L453.36,362.62 L453.77,362.18 L454.18,361.76 L454.59,361.38 L455.00,361.06 L455.41,360.83 L455.82,360.71 L456.23,360.72 L456.64,360.81 L457.05,360.99 L457.47,361.23 L457.88,361.52 L458.29,361.86 L458.70,362.23 L459.11,362.62 L459.52,363.02 L459.93,363.48 L460.34,364.07 L460.75,364.75 L461.16,365.54 L461.57,366.40 L461.98,367.34 L462.39,368.34 L462.80,369.39 L463.21,370.48 L463.62,371.59 L464.03,372.72 L464.44,373.85 L464.85,374.98 L465.26,376.09 L465.68,377.17 L466.09,378.22 L466.50,379.26 L466.91,380.32 L467.32,381.40 L467.73,382.49 L468.14,383.60 L468.55,384.73 L468.96,385.86 L469.37,387.00 L469.78,388.15 L470.19,389.31 L470.60,390.47 L471.01,391.63 L471.42,392.79 L471.83,393.96 L472.24,395.12 L472.65,396.27 L473.06,397.42 L473.48,398.56 L473.89,399.69 L474.30,400.81 L474.71,401.94 L475.12,403.07 L475.53,404.21 L475.94,405.35 L476.35,406.49 L476.76,407.63 L477.17,408.77 L477.58,409.90 L477.99,411.03 L478.40,412.15 L478.81,413.26 L479.22,414.37 L479.63,415.46 L480.04,416.54 L480.45,417.61 L480.86,418.66 L481.28,419.69 L481.69,420.68 L482.10,421.65 L482.51,422.60 L482.92,423.55 L483.33,424.49 L483.74,425.43 L484.15,426.39 L484.56,427.38 L484.97,428.39 L485.38,429.45 L485.79,430.55 L486.20,431.71 L486.61,432.91 L487.02,434.14 L487.43,435.39 L487.84,436.64 L488.25,437.90 L488.66,439.15 L489.07,440.37 L489.49,441.57 L489.90,442.72 L490.31,443.84 L490.72,444.97 L491.13,446.12 L491.54,447.27 L491.95,448.41 L492.36,449.55 L492.77,450.67 L493.18,451.76 L493.59,452.82 L494.00,453.84 L494.41,454.81 L494.82,455.73 L495.23,456.59 L495.64,457.38 L496.05,458.09 L496.46,458.77 L496.87,459.44 L497.29,460.09 L497.70,460.73 L498.11,461.35 L498.52,461.94 L498.93,462.51 L499.34,463.04 L499.75,463.54 L500.16,464.00 L500.57,464.42 L500.98,464.79 L501.39,465.12 L501.80,465.39 L502.21,465.61 L502.62,465.82 L503.03,466.03 L503.44,466.23 L503.85,466.42 L504.26,466.60 L504.67,466.77 L505.09,466.93 L505.50,467.07 L505.91,467.19 L506.32,467.29 L506.73,467.38 L507.14,467.44 L507.55,467.48 L507.96,467.50 L508.37,467.49 L508.78,467.47 L509.19,467.44 L509.60,467.40 L510.01,467.34 L510.42,467.28 L510.83,467.20 L511.24,467.12 L511.65,467.04 L512.06,466.95 L512.47,466.85 L512.88,466.76 L513.30,466.66 L513.71,466.57 L514.12,466.47 L514.53,466.37 L514.94,466.26 L515.35,466.13 L515.76,466.00 L516.17,465.86 L516.58,465.71 L516.99,465.55 L517.40,465.38 L517.81,465.22 L518.22,465.04 L518.63,464.87 L519.04,464.69 L519.45,464.51 L519.86,464.33 L520.27,464.14 L520.68,463.96 L521.10,463.78 L521.51,463.61 L521.92,463.43 L522.33,463.27 L522.74,463.10 L523.15,462.94 L523.56,462.78 L523.97,462.62 L524.38,462.45 L524.79,462.28 L525.20,462.11 L525.61,461.93 L526.02,461.76 L526.43,461.59 L526.84,461.42 L527.25,461.25 L527.66,461.09 L528.07,460.93 L528.48,460.78 L528.90,460.63 L529.31,460.49 L529.72,460.36 L530.13,460.23 L530.54,460.12 L530.95,460.01 L531.36,459.92 L531.77,459.83 L532.18,459.75 L532.59,459.67 L533.00,459.60 L533.41,459.53 L533.82,459.47 L534.23,459.41 L534.64,459.34 L535.05,459.29 L535.46,459.23 L535.87,459.17 L536.28,459.10 L536.69,459.04 L537.11,458.97 L537.52,458.90 L537.93,458.83 L538.34,458.74 L538.75,458.66 L539.16,458.56 L539.57,458.46 L539.98,458.36 L540.39,458.25 L540.80,458.14 L541.21,458.02 L541.62,457.90 L542.03,457.76 L542.44,457.62 L542.85,457.47 L543.26,457.31 L543.67,457.14 L544.08,456.96 L544.49,456.76 L544.91,456.54 L545.32,456.29 L545.73,456.02 L546.14,455.74 L546.55,455.43 L546.96,455.11 L547.37,454.78 L547.78,454.43 L548.19,454.07 L548.60,453.70" fill="none" stroke="#ff1010" stroke-width="1.3" clip-path="url(#c3)"/>
<path d="M302.70,429.50 L303.11,429.49 L303.52,429.47 L303.93,429.45 L304.34,429.44 L304.75,429.41 L305.16,429.39 L305.57,429.36 L305.98,429.34 L306.39,429.31 L306.81,429.28 L307.22,429.25 L307.63,429.21 L308.04,429.18 L308.45,429.15 L308.86,429.11 L309.27,429.07 L309.68,429.03 L310.09,428.97 L310.50,428.90 L310.91,428.83 L311.32,428.76 L311.73,428.68 L312.14,428.61 L312.55,428.54 L312.96,428.47 L313.37,428.42 L313.78,428.37 L314.19,428.33 L314.61,428.31 L315.02,428.30 L315.43,428.31 L315.84,428.33 L316.25,428.36 L316.66,428.40 L317.07,428.46 L317.48,428.52 L317.89,428.59 L318.30,428.66 L318.71,428.74 L319.12,428.83 L319.53,428.94 L319.94,429.08 L320.35,429.26 L320.76,429.47 L321.17,429.30 L321.58,429.04 L321.99,428.76 L322.40,428.47 L322.82,428.15 L323.23,427.81 L323.64,427.39 L324.05,426.90 L324.46,426.34 L324.87,425.73 L325.28,425.05 L325.69,424.32 L326.10,423.55 L326.51,422.74 L326.92,421.89 L327.33,421.01 L327.74,420.11 L328.15,419.20 L328.56,418.27 L328.97,417.33 L329.38,416.40 L329.79,415.46 L330.20,414.53 L330.62,413.51 L331.03,412.41 L331.44,411.24 L331.85,410.00 L332.26,408.72 L332.67,407.39 L333.08,406.05 L333.49,404.68 L333.90,403.31 L334.31,401.95 L334.72,400.62 L335.13,399.31 L335.54,398.04 L335.95,396.83 L336.36,395.68 L336.77,394.62 L337.18,393.64 L337.59,392.76 L338.00,391.99 L338.42,391.28 L338.83,390.56 L339.24,389.84 L339.65,389.12 L340.06,388.42 L340.47,387.73 L340.88,387.06 L341.29,386.41 L341.70,385.81 L342.11,385.23 L342.52,384.71 L342.93,384.23 L343.34,383.80 L343.75,383.44 L344.16,383.14 L344.57,382.92 L344.98,382.77 L345.39,382.70 L345.80,382.73 L346.21,382.87 L346.63,383.11 L347.04,383.44 L347.45,383.86 L347.86,384.35 L348.27,384.92 L348.68,385.55 L349.09,386.24 L349.50,386.97 L349.91,387.74 L350.32,388.54 L350.73,389.37 L351.14,390.22 L351.55,391.07 L351.96,391.92 L352.37,392.84 L352.78,393.92 L353.19,395.13 L353.60,396.47 L354.01,397.92 L354.43,399.46 L354.84,401.06 L355.25,402.72 L355.66,404.42 L356.07,406.14 L356.48,407.87 L356.89,409.58 L357.30,411.25 L357.71,412.88 L358.12,414.45 L358.53,416.03 L358.94,417.64 L359.35,419.26 L359.76,420.89 L360.17,422.52 L360.58,424.13 L360.99,425.73 L361.40,427.30 L361.81,428.83 L362.23,428.69 L362.64,427.21 L363.05,425.74 L363.46,424.29 L363.87,422.85 L364.28,421.45 L364.69,420.08 L365.10,418.75 L365.51,417.47 L365.92,416.23 L366.33,415.04 L366.74,413.84 L367.15,412.65 L367.56,411.47 L367.97,410.30 L368.38,409.16 L368.79,408.04 L369.20,406.96 L369.61,405.92 L370.02,404.92 L370.44,403.98 L370.85,403.10 L371.26,402.29 L371.67,401.55 L372.08,400.88 L372.49,400.25 L372.90,399.63 L373.31,399.03 L373.72,398.44 L374.13,397.88 L374.54,397.33 L374.95,396.81 L375.36,396.31 L375.77,395.84 L376.18,395.39 L376.59,394.97 L377.00,394.58 L377.41,394.23 L377.82,393.91 L378.24,393.63 L378.65,393.38 L379.06,393.17 L379.47,392.98 L379.88,392.80 L380.29,392.61 L380.70,392.44 L381.11,392.28 L381.52,392.12 L381.93,391.98 L382.34,391.85 L382.75,391.74 L383.16,391.65 L383.57,391.58 L383.98,391.53 L384.39,391.50 L384.80,391.50 L385.21,391.51 L385.62,391.54 L386.04,391.57 L386.45,391.62 L386.86,391.67 L387.27,391.74 L387.68,391.80 L388.09,391.88 L388.50,391.96 L388.91,392.04 L389.32,392.13 L389.73,392.22 L390.14,392.31 L390.55,392.40 L390.96,392.49 L391.37,392.59 L391.78,392.69 L392.19,392.81 L392.60,392.94 L393.01,393.08 L393.42,393.22 L393.83,393.38 L394.25,393.54 L394.66,393.71 L395.07,393.88 L395.48,394.06 L395.89,394.23 L396.30,394.42 L396.71,394.60 L397.12,394.78 L397.53,394.96 L397.94,395.15 L398.35,395.32 L398.76,395.50 L399.17,395.67 L399.58,395.84 L399.99,396.00 L400.40,396.16 L400.81,396.32 L401.22,396.49 L401.63,396.66 L402.05,396.83 L402.46,397.00 L402.87,397.17 L403.28,397.34 L403.69,397.51 L404.10,397.68 L404.51,397.85 L404.92,398.01 L405.33,398.16 L405.74,398.31 L406.15,398.46 L406.56,398.59 L406.97,398.72 L407.38,398.84 L407.79,398.95 L408.20,399.05 L408.61,399.14 L409.02,399.23 L409.43,399.31 L409.85,399.38 L410.26,399.46 L410.67,399.53 L411.08,399.59 L411.49,399.66 L411.90,399.72 L412.31,399.78 L412.72,399.85 L413.13,399.91 L413.54,399.97 L413.95,400.04 L414.36,400.10 L414.77,400.17 L415.18,400.24 L415.59,400.32 L416.00,400.40 L416.41,400.48 L416.82,400.56 L417.23,400.64 L417.64,400.71 L418.06,400.79 L418.47,400.87 L418.88,400.95 L419.29,401.03 L419.70,401.12 L420.11,401.22 L420.52,401.33 L420.93,401.45 L421.34,401.57 L421.75,401.71 L422.16,401.86 L422.57,402.05 L422.98,402.26 L423.39,402.52 L423.80,402.80 L424.21,403.12 L424.62,403.46 L425.03,403.84 L425.44,404.24 L425.86,404.67 L426.27,405.12 L426.68,405.60 L427.09,406.11 L427.50,406.71 L427.91,407.43 L428.32,408.25 L428.73,409.15 L429.14,410.13 L429.55,411.16 L429.96,412.22 L430.37,413.31 L430.78,414.42 L431.19,415.52 L431.60,416.65 L432.01,417.83 L432.42,419.06 L432.83,420.33 L433.24,421.65 L433.66,423.03 L434.07,424.46 L434.48,425.94 L434.89,427.49 L435.30,429.09 L435.71,428.21 L436.12,426.34 L436.53,424.33 L436.94,422.19 L437.35,419.96 L437.76,417.65 L438.17,415.31 L438.58,412.94 L438.99,410.58 L439.40,408.25 L439.81,405.99 L440.22,403.81 L440.63,401.73 L441.04,399.80 L441.45,397.91 L441.87,396.01 L442.28,394.11 L442.69,392.22 L443.10,390.34 L443.51,388.48 L443.92,386.65 L444.33,384.86 L444.74,383.12 L445.15,381.44 L445.56,379.82 L445.97,378.27 L446.38,376.81 L446.79,375.44 L447.20,374.16 L447.61,373.00 L448.02,371.94 L448.43,370.96 L448.84,370.02 L449.25,369.12 L449.67,368.25 L450.08,367.43 L450.49,366.66 L450.90,365.93 L451.31,365.24 L451.72,364.61 L452.13,364.04 L452.54,363.52 L452.95,363.05 L453.36,362.62 L453.77,362.18 L454.18,361.76 L454.59,361.38 L455.00,361.06 L455.41,360.83 L455.82,360.71 L456.23,360.72 L456.64,360.81 L457.05,360.99 L457.47,361.23 L457.88,361.52 L458.29,361.86 L458.70,362.23 L459.11,362.62 L459.52,363.02 L459.93,363.48 L460.34,364.07 L460.75,364.75 L461.16,365.54 L461.57,366.40 L461.98,367.34 L462.39,368.34 L462.80,369.39 L463.21,370.48 L463.62,371.59 L464.03,372.72 L464.44,373.85 L464.85,374.98 L465.26,376.09 L465.68,377.17 L466.09,378.22 L466.50,379.26 L466.91,380.32 L467.32,381.40 L467.73,382.49 L468.14,383.60 L468.55,384.73 L468.96,385.86 L469.37,387.00 L469.78,388.15 L470.19,389.31 L470.60,390.47 L471.01,391.63 L471.42,392.79 L471.83,393.96 L472.24,395.12 L472.65,396.27 L473.06,397.42 L473.48,398.56 L473.89,399.69 L474.30,400.81 L474.71,401.94 L475.12,403.07 L475.53,404.21 L475.94,405.35 L476.35,406.49 L476.76,407.63 L477.17,408.77 L477.58,409.90 L477.99,411.03 L478.40,412.15 L478.81,413.26 L479.22,414.37 L479.63,415.46 L480.04,416.54 L480.45,417.61 L480.86,418.66 L481.28,419.69 L481.69,420.68 L482.10,421.65 L482.51,422.60 L482.92,423.55 L483.33,424.49 L483.74,425.43 L484.15,426.39 L484.56,427.38 L484.97,428.39 L485.38,429.45 L485.79,428.45 L486.20,427.29 L486.61,426.09 L487.02,424.86 L487.43,423.61 L487.84,422.36 L488.25,421.10 L488.66,419.85 L489.07,418.63 L489.49,417.43 L489.90,416.28 L490.31,415.16 L490.72,414.03 L491.13,412.88 L491.54,411.73 L491.95,410.59 L492.36,409.45 L492.77,408.33 L493.18,407.24 L493.59,406.18 L494.00,405.16 L494.41,404.19 L494.82,403.27 L495.23,402.41 L495.64,401.62 L496.05,400.91 L496.46,400.23 L496.87,399.56 L497.29,398.91 L497.70,398.27 L498.11,397.65 L498.52,397.06 L498.93,396.49 L499.34,395.96 L499.75,395.46 L500.16,395.00 L500.57,394.58 L500.98,394.21 L501.39,393.88 L501.80,393.61 L502.21,393.39 L502.62,393.18 L503.03,392.97 L503.44,392.77 L503.85,392.58 L504.26,392.40 L504.67,392.23 L505.09,392.07 L505.50,391.93 L505.91,391.81 L506.32,391.71 L506.73,391.62 L507.14,391.56 L507.55,391.52 L507.96,391.50 L508.37,391.51 L508.78,391.53 L509.19,391.56 L509.60,391.60 L510.01,391.66 L510.42,391.72 L510.83,391.80 L511.24,391.88 L511.65,391.96 L512.06,392.05 L512.47,392.15 L512.88,392.24 L513.30,392.34 L513.71,392.43 L514.12,392.53 L514.53,392.63 L514.94,392.74 L515.35,392.87 L515.76,393.00 L516.17,393.14 L516.58,393.29 L516.99,393.45 L517.40,393.62 L517.81,393.78 L518.22,393.96 L518.63,394.13 L519.04,394.31 L519.45,394.49 L519.86,394.67 L520.27,394.86 L520.68,395.04 L521.10,395.22 L521.51,395.39 L521.92,395.57 L522.33,395.73 L522.74,395.90 L523.15,396.06 L523.56,396.22 L523.97,396.38 L524.38,396.55 L524.79,396.72 L525.20,396.89 L525.61,397.07 L526.02,397.24 L526.43,397.41 L526.84,397.58 L527.25,397.75 L527.66,397.91 L528.07,398.07 L528.48,398.22 L528.90,398.37 L529.31,398.51 L529.72,398.64 L530.13,398.77 L530.54,398.88 L530.95,398.99 L531.36,399.08 L531.77,399.17 L532.18,399.25 L532.59,399.33 L533.00,399.40 L533.41,399.47 L533.82,399.53 L534.23,399.59 L534.64,399.66 L535.05,399.71 L535.46,399.77 L535.87,399.83 L536.28,399.90 L536.69,399.96 L537.11,400.03 L537.52,400.10 L537.93,400.17 L538.34,400.26 L538.75,400.34 L539.16,400.44 L539.57,400.54 L539.98,400.64 L540.39,400.75 L540.80,400.86 L541.21,400.98 L541.62,401.10 L542.03,401.24 L542.44,401.38 L542.85,401.53 L543.26,401.69 L543.67,401.86 L544.08,402.04 L544.49,402.24 L544.91,402.46 L545.32,402.71 L545.73,402.98 L546.14,403.26 L546.55,403.57 L546.96,403.89 L547.37,404.22 L547.78,404.57 L548.19,404.93 L548.60,405.30" fill="none" stroke="#1010ff" stroke-width="1.3" clip-path="url(#c3)"/>
<rect x="275.6" y="349.5" width="300.9" height="130.8" fill="none" stroke="#000" stroke-width="1.35"/>
<circle cx="302.6" cy="350.0" r="3.2" fill="#111" clip-path="url(#c3)"/>
<circle cx="302.6" cy="479.8" r="3.2" fill="#111" clip-path="url(#c3)"/>
<text x="250.02" y="481.2" font-size="11" fill="#111" stroke="#111" textLength="16.38" lengthAdjust="spacingAndGlyphs">-10</text>
<text x="256.37" y="456.2" font-size="11" fill="#111" stroke="#111" textLength="10.07" lengthAdjust="spacingAndGlyphs">-5</text>
<text x="260.11" y="432.2" font-size="11" fill="#111" stroke="#111" textLength="6.30" lengthAdjust="spacingAndGlyphs">0</text>
<text x="260.17" y="407.2" font-size="11" fill="#111" stroke="#111" textLength="6.30" lengthAdjust="spacingAndGlyphs">5</text>
<text x="253.82" y="382.2" font-size="11" fill="#111" stroke="#111" textLength="12.60" lengthAdjust="spacingAndGlyphs">10</text>
<text x="253.88" y="357.2" font-size="11" fill="#111" stroke="#111" textLength="12.60" lengthAdjust="spacingAndGlyphs">15</text>
<text x="299.46" y="498.0" font-size="11" fill="#111" stroke="#111" textLength="6.30" lengthAdjust="spacingAndGlyphs">0</text>
<text x="356.99" y="498.0" font-size="11" fill="#111" stroke="#111" textLength="14.22" lengthAdjust="spacingAndGlyphs">0.5</text>
<text x="422.24" y="498.0" font-size="11" fill="#111" stroke="#111" textLength="6.30" lengthAdjust="spacingAndGlyphs">1</text>
<text x="479.74" y="498.0" font-size="11" fill="#111" stroke="#111" textLength="14.22" lengthAdjust="spacingAndGlyphs">1.5</text>
<text x="546.13" y="498.0" font-size="11" fill="#111" stroke="#111" textLength="6.30" lengthAdjust="spacingAndGlyphs">2</text>
<text x="382.89" y="321.6" font-size="13.5" fill="#111" stroke="#111" textLength="41.97" lengthAdjust="spacingAndGlyphs">Joint 1</text>
<text x="316.08" y="336.8" font-size="13.5" fill="#111" stroke="#111" textLength="177.95" lengthAdjust="spacingAndGlyphs">Joint - Angular Acceleration</text>
<text x="405.07" y="514.8" font-size="12" fill="#111" stroke="#111" textLength="41.61" lengthAdjust="spacingAndGlyphs">Time (s)</text>
<rect x="342" y="525" width="9" height="8.5" fill="#ff0000"/>
<text x="358.95" y="532.7" font-size="12" fill="#111" stroke="#111" textLength="31.81" lengthAdjust="spacingAndGlyphs">WDTY</text>
<rect x="428" y="525" width="9" height="8.5" fill="#0000ff"/>
<text x="445.24" y="532.7" font-size="12" fill="#111" stroke="#111" textLength="36.50" lengthAdjust="spacingAndGlyphs">WDTM</text>
<g><text transform="translate(239.0,492.30) rotate(-90)" font-size="12" fill="#111" stroke="#111" textLength="155.68" lengthAdjust="spacingAndGlyphs">Angular Acceleration (rad/s2)</text></g>
<clipPath id="c4"><rect x="650.8" y="334.6" width="302.0" height="145.7"/></clipPath>
<line x1="739.5" y1="334.6" x2="739.5" y2="480.3" stroke="#c2c2c2" stroke-width="1"/>
<line x1="800.5" y1="334.6" x2="800.5" y2="480.3" stroke="#c2c2c2" stroke-width="1"/>
<line x1="861.5" y1="334.6" x2="861.5" y2="480.3" stroke="#c2c2c2" stroke-width="1"/>
<line x1="922.5" y1="334.6" x2="922.5" y2="480.3" stroke="#c2c2c2" stroke-width="1"/>
<line x1="650.8" y1="463.5" x2="952.8" y2="463.5" stroke="#c2c2c2" stroke-width="1"/>
<line x1="650.8" y1="444.5" x2="952.8" y2="444.5" stroke="#c2c2c2" stroke-width="1"/>
<line x1="650.8" y1="425.5" x2="952.8" y2="425.5" stroke="#c2c2c2" stroke-width="1"/>
<line x1="650.8" y1="387.5" x2="952.8" y2="387.5" stroke="#c2c2c2" stroke-width="1"/>
<line x1="650.8" y1="369.5" x2="952.8" y2="369.5" stroke="#c2c2c2" stroke-width="1"/>
<line x1="650.8" y1="350.5" x2="952.8" y2="350.5" stroke="#c2c2c2" stroke-width="1"/>
<line x1="678.5" y1="330.1" x2="678.5" y2="334.6" stroke="#5a5a5a" stroke-width="1"/>
<line x1="678.5" y1="480.3" x2="678.5" y2="484.8" stroke="#5a5a5a" stroke-width="1"/>
<line x1="739.5" y1="330.1" x2="739.5" y2="334.6" stroke="#5a5a5a" stroke-width="1"/>
<line x1="739.5" y1="480.3" x2="739.5" y2="484.8" stroke="#5a5a5a" stroke-width="1"/>
<line x1="800.5" y1="330.1" x2="800.5" y2="334.6" stroke="#5a5a5a" stroke-width="1"/>
<line x1="800.5" y1="480.3" x2="800.5" y2="484.8" stroke="#5a5a5a" stroke-width="1"/>
<line x1="861.5" y1="330.1" x2="861.5" y2="334.6" stroke="#5a5a5a" stroke-width="1"/>
<line x1="861.5" y1="480.3" x2="861.5" y2="484.8" stroke="#5a5a5a" stroke-width="1"/>
<line x1="922.5" y1="330.1" x2="922.5" y2="334.6" stroke="#5a5a5a" stroke-width="1"/>
<line x1="922.5" y1="480.3" x2="922.5" y2="484.8" stroke="#5a5a5a" stroke-width="1"/>
<line x1="646.3" y1="463.5" x2="650.8" y2="463.5" stroke="#5a5a5a" stroke-width="1"/>
<line x1="952.8" y1="463.5" x2="957.3" y2="463.5" stroke="#5a5a5a" stroke-width="1"/>
<line x1="646.3" y1="444.5" x2="650.8" y2="444.5" stroke="#5a5a5a" stroke-width="1"/>
<line x1="952.8" y1="444.5" x2="957.3" y2="444.5" stroke="#5a5a5a" stroke-width="1"/>
<line x1="646.3" y1="425.5" x2="650.8" y2="425.5" stroke="#5a5a5a" stroke-width="1"/>
<line x1="952.8" y1="425.5" x2="957.3" y2="425.5" stroke="#5a5a5a" stroke-width="1"/>
<line x1="646.3" y1="406.5" x2="650.8" y2="406.5" stroke="#5a5a5a" stroke-width="1"/>
<line x1="952.8" y1="406.5" x2="957.3" y2="406.5" stroke="#5a5a5a" stroke-width="1"/>
<line x1="646.3" y1="387.5" x2="650.8" y2="387.5" stroke="#5a5a5a" stroke-width="1"/>
<line x1="952.8" y1="387.5" x2="957.3" y2="387.5" stroke="#5a5a5a" stroke-width="1"/>
<line x1="646.3" y1="369.5" x2="650.8" y2="369.5" stroke="#5a5a5a" stroke-width="1"/>
<line x1="952.8" y1="369.5" x2="957.3" y2="369.5" stroke="#5a5a5a" stroke-width="1"/>
<line x1="646.3" y1="350.5" x2="650.8" y2="350.5" stroke="#5a5a5a" stroke-width="1"/>
<line x1="952.8" y1="350.5" x2="957.3" y2="350.5" stroke="#5a5a5a" stroke-width="1"/>
<line x1="650.8" y1="406.5" x2="952.8" y2="406.5" stroke="#565656" stroke-width="1.4"/>
<line x1="678.5" y1="334.6" x2="678.5" y2="480.3" stroke="#565656" stroke-width="1.4"/>
<path d="M678.50,406.30 L679.19,406.33 L679.87,406.36 L680.56,406.39 L681.25,406.42 L681.94,406.45 L682.62,406.49 L683.31,406.52 L684.00,406.55 L684.69,406.58 L685.37,406.61 L686.06,406.64 L686.75,406.67 L687.44,406.70 L688.12,406.73 L688.81,406.76 L689.50,406.79 L690.19,406.82 L690.88,406.85 L691.56,406.88 L692.25,406.90 L692.94,406.93 L693.63,406.96 L694.31,406.99 L695.00,407.02 L695.69,407.04 L696.38,407.07 L697.07,407.09 L697.75,407.12 L698.44,407.14 L699.13,407.17 L699.82,407.19 L700.50,407.22 L701.19,407.24 L701.88,407.26 L702.57,407.28 L703.26,407.31 L703.94,407.33 L704.63,407.35 L705.32,407.37 L706.01,407.39 L706.70,407.40 L707.38,407.42 L708.07,407.44 L708.76,407.45 L709.45,407.47 L710.14,407.48 L710.83,407.50 L711.51,407.51 L712.20,407.52 L712.89,407.54 L713.58,407.55 L714.27,407.56 L714.95,407.56 L715.64,407.57 L716.33,407.58 L717.02,407.59 L717.71,407.59 L718.40,407.59 L719.08,407.60 L719.77,407.60 L720.46,407.60 L721.15,407.60 L721.84,407.60 L722.52,407.60 L723.21,407.59 L723.90,407.59 L724.59,407.59 L725.28,407.58 L725.97,407.57 L726.65,407.56 L727.34,407.55 L728.03,407.54 L728.72,407.53 L729.41,407.52 L730.10,407.50 L730.78,407.49 L731.47,407.47 L732.16,407.46 L732.85,407.44 L733.54,407.42 L734.22,407.40 L734.91,407.38 L735.60,407.35 L736.29,407.33 L736.98,407.31 L737.66,407.28 L738.35,407.25 L739.04,407.22 L739.73,407.19 L740.41,407.16 L741.10,407.13 L741.79,407.10 L742.48,407.06 L743.16,407.03 L743.85,406.99 L744.54,406.96 L745.23,406.92 L745.91,406.88 L746.60,406.84 L747.29,406.79 L747.98,406.75 L748.66,406.71 L749.35,406.66 L750.04,406.61 L750.72,406.57 L751.41,406.52 L752.10,406.47 L752.78,406.41 L753.47,406.36 L754.15,406.31 L754.84,406.25 L755.53,406.20 L756.21,406.14 L756.90,406.08 L757.58,406.02 L758.27,405.96 L758.95,405.90 L759.64,405.83 L760.32,405.77 L761.01,405.70 L761.69,405.64 L762.38,405.57 L763.06,405.50 L763.75,405.43 L764.43,405.36 L765.12,405.29 L765.80,405.22 L766.49,405.14 L767.17,405.07 L767.85,404.99 L768.54,404.92 L769.22,404.84 L769.91,404.76 L770.59,404.69 L771.27,404.61 L771.96,404.53 L772.64,404.45 L773.33,404.38 L774.01,404.30 L774.69,404.22 L775.38,404.14 L776.06,404.06 L776.74,403.98 L777.43,403.90 L778.11,403.82 L778.80,403.74 L779.48,403.66 L780.16,403.58 L780.85,403.50 L781.53,403.42 L782.22,403.34 L782.90,403.26 L783.58,403.18 L784.27,403.10 L784.95,403.02 L785.64,402.94 L786.32,402.86 L787.00,402.78 L787.69,402.70 L788.37,402.61 L789.05,402.53 L789.74,402.44 L790.42,402.35 L791.10,402.27 L791.78,402.18 L792.47,402.08 L793.15,401.99 L793.83,401.90 L794.51,401.80 L795.19,401.70 L795.87,401.60 L796.55,401.50 L797.23,401.39 L797.91,401.28 L798.59,401.18 L799.27,401.06 L799.95,400.95 L800.63,400.83 L801.30,400.71 L801.98,400.59 L802.66,400.46 L803.33,400.33 L804.01,400.20 L804.69,400.07 L805.36,399.93 L806.03,399.79 L806.71,399.65 L807.38,399.50 L808.05,399.36 L808.73,399.21 L809.40,399.05 L810.07,398.90 L810.74,398.74 L811.41,398.58 L812.08,398.42 L812.75,398.25 L813.41,398.09 L814.08,397.92 L814.75,397.74 L815.41,397.57 L816.08,397.39 L816.75,397.21 L817.41,397.03 L818.07,396.85 L818.74,396.66 L819.40,396.47 L820.06,396.28 L820.72,396.09 L821.38,395.90 L822.04,395.70 L822.70,395.50 L823.36,395.30 L824.02,395.09 L824.67,394.89 L825.33,394.68 L825.99,394.47 L826.64,394.26 L827.30,394.05 L827.95,393.83 L828.60,393.62 L829.25,393.40 L829.91,393.18 L830.56,392.95 L831.21,392.73 L831.86,392.50 L832.51,392.27 L833.16,392.04 L833.81,391.81 L834.45,391.58 L835.10,391.34 L835.75,391.11 L836.39,390.87 L837.04,390.63 L837.68,390.39 L838.33,390.14 L838.97,389.90 L839.61,389.65 L840.26,389.40 L840.90,389.15 L841.54,388.90 L842.18,388.65 L842.82,388.39 L843.46,388.13 L844.10,387.87 L844.73,387.61 L845.37,387.35 L846.01,387.08 L846.64,386.81 L847.27,386.54 L847.91,386.27 L848.54,385.99 L849.17,385.71 L849.79,385.43 L850.42,385.14 L851.05,384.85 L851.67,384.56 L852.29,384.27 L852.91,383.97 L853.53,383.67 L854.15,383.36 L854.76,383.05 L855.38,382.74 L855.99,382.42 L856.60,382.10 L857.21,381.78 L857.81,381.45 L858.42,381.11 L859.02,380.78 L859.62,380.43 L860.22,380.09 L860.81,379.74 L861.40,379.38 L861.99,379.02 L862.58,378.65 L863.17,378.28 L863.75,377.91 L864.33,377.53 L864.90,377.14 L865.48,376.75 L866.05,376.36 L866.61,375.96 L867.17,375.56 L867.73,375.15 L868.29,374.74 L868.84,374.32 L869.38,373.90 L869.93,373.47 L870.46,373.04 L871.00,372.61 L871.53,372.17 L872.05,371.73 L872.57,371.28 L873.08,370.83 L873.59,370.38 L874.09,369.92 L874.59,369.45 L875.08,368.99 L875.56,368.51 L876.04,368.04 L876.52,367.55 L876.99,367.06 L877.46,366.57 L877.92,366.07 L878.37,365.56 L878.82,365.04 L879.27,364.51 L879.71,363.98 L880.15,363.44 L880.59,362.89 L881.02,362.33 L881.44,361.76 L881.87,361.19 L882.29,360.60 L882.70,360.00 L883.09,359.39 L883.46,358.77 L883.79,358.14 L884.09,357.50 L884.33,356.86 L884.52,356.20 L884.65,355.54 L884.70,354.87 L884.68,354.19 L884.57,353.51 L884.39,352.83 L884.14,352.17 L883.82,351.53 L883.44,350.92 L883.02,350.35 L882.54,349.84 L882.03,349.38 L881.47,348.98 L880.89,348.64 L880.27,348.34 L879.63,348.09 L878.97,347.88 L878.28,347.71 L877.58,347.58 L876.87,347.48 L876.15,347.40 L875.42,347.35 L874.70,347.32 L873.97,347.30 L873.25,347.30 L872.54,347.31 L871.83,347.33 L871.12,347.36 L870.43,347.41 L869.73,347.46 L869.04,347.53 L868.36,347.60 L867.68,347.69 L867.00,347.79 L866.33,347.89 L865.66,348.01 L864.99,348.14 L864.32,348.27 L863.66,348.42 L863.00,348.57 L862.34,348.73 L861.68,348.91 L861.02,349.09 L860.36,349.27 L859.71,349.47 L859.05,349.68 L858.40,349.89 L857.75,350.11 L857.10,350.34 L856.45,350.58 L855.81,350.82 L855.16,351.08 L854.52,351.34 L853.88,351.61 L853.25,351.88 L852.62,352.16 L851.99,352.45 L851.36,352.75 L850.74,353.06 L850.12,353.37 L849.50,353.68 L848.89,354.01 L848.29,354.34 L847.68,354.68 L847.09,355.02 L846.49,355.37 L845.90,355.73 L845.31,356.09 L844.73,356.46 L844.15,356.83 L843.58,357.21 L843.00,357.59 L842.43,357.98 L841.87,358.37 L841.31,358.77 L840.75,359.17 L840.19,359.57 L839.63,359.98 L839.08,360.39 L838.53,360.81 L837.98,361.22 L837.43,361.64 L836.89,362.07 L836.35,362.49 L835.81,362.92 L835.27,363.35 L834.73,363.78 L834.19,364.21 L833.66,364.64 L833.12,365.08 L832.59,365.51 L832.06,365.95 L831.53,366.39 L831.00,366.83 L830.47,367.27 L829.94,367.71 L829.41,368.16 L828.89,368.60 L828.36,369.05 L827.84,369.50 L827.32,369.95 L826.80,370.40 L826.28,370.85 L825.76,371.30 L825.25,371.76 L824.73,372.21 L824.22,372.67 L823.70,373.13 L823.19,373.59 L822.68,374.05 L822.17,374.51 L821.66,374.97 L821.15,375.44 L820.65,375.90 L820.14,376.37 L819.64,376.84 L819.13,377.31 L818.63,377.78 L818.13,378.25 L817.63,378.72 L817.14,379.19 L816.64,379.67 L816.14,380.15 L815.65,380.63 L815.16,381.11 L814.67,381.59 L814.18,382.08 L813.69,382.56 L813.21,383.05 L812.73,383.54 L812.25,384.04 L811.77,384.53 L811.29,385.03 L810.81,385.53 L810.34,386.03 L809.87,386.54 L809.40,387.05 L808.94,387.56 L808.47,388.07 L808.02,388.59 L807.56,389.11 L807.11,389.64 L806.67,390.17 L806.23,390.70 L805.80,391.24 L805.38,391.78 L804.96,392.33 L804.55,392.89 L804.15,393.45 L803.76,394.01 L803.38,394.58 L803.01,395.16 L802.65,395.75 L802.30,396.34 L801.96,396.94 L801.64,397.55 L801.32,398.16 L801.02,398.78 L800.73,399.40 L800.45,400.03 L800.18,400.67 L799.93,401.31 L799.68,401.96 L799.45,402.61 L799.23,403.26 L799.02,403.92 L798.83,404.59 L798.64,405.26 L798.47,405.93 L798.32,406.61 L798.18,407.29 L798.05,407.97 L797.94,408.65 L797.84,409.34 L797.76,410.03 L797.69,410.72 L797.64,411.41 L797.61,412.10 L797.60,412.79 L797.60,413.48 L797.63,414.17 L797.67,414.86 L797.73,415.55 L797.82,416.23 L797.92,416.92 L798.04,417.60 L798.18,418.28 L798.34,418.95 L798.51,419.62 L798.71,420.29 L798.92,420.95 L799.15,421.61 L799.39,422.26 L799.65,422.90 L799.93,423.54 L800.22,424.16 L800.53,424.78 L800.85,425.39 L801.19,425.99 L801.54,426.59 L801.90,427.17 L802.28,427.75 L802.66,428.31 L803.06,428.87 L803.47,429.43 L803.90,429.97 L804.33,430.51 L804.77,431.04 L805.22,431.57 L805.67,432.09 L806.14,432.60 L806.61,433.11 L807.08,433.61 L807.57,434.11 L808.05,434.61 L808.55,435.10 L809.04,435.58 L809.54,436.07 L810.05,436.54 L810.55,437.02 L811.06,437.49 L811.57,437.96 L812.08,438.43 L812.60,438.89 L813.11,439.35 L813.63,439.81 L814.16,440.26 L814.68,440.70 L815.21,441.15 L815.74,441.59 L816.27,442.03 L816.81,442.46 L817.35,442.89 L817.89,443.31 L818.44,443.73 L818.98,444.15 L819.53,444.56 L820.09,444.96 L820.65,445.37 L821.21,445.76 L821.77,446.16 L822.34,446.55 L822.91,446.93 L823.48,447.31 L824.06,447.68 L824.64,448.05 L825.22,448.41 L825.81,448.77 L826.40,449.12 L826.99,449.47 L827.59,449.82 L828.19,450.15 L828.79,450.49 L829.39,450.82 L830.00,451.14 L830.61,451.46 L831.22,451.78 L831.84,452.09 L832.46,452.39 L833.08,452.70 L833.70,452.99 L834.33,453.29 L834.95,453.57 L835.58,453.86 L836.21,454.14 L836.85,454.42 L837.48,454.69 L838.12,454.96 L838.75,455.22 L839.39,455.48 L840.03,455.74 L840.68,455.99 L841.32,456.24 L841.96,456.49 L842.61,456.73 L843.26,456.97 L843.91,457.20 L844.55,457.43 L845.20,457.66 L845.86,457.89 L846.51,458.11 L847.16,458.33 L847.81,458.54 L848.47,458.76 L849.12,458.97 L849.78,459.17 L850.44,459.38 L851.10,459.58 L851.75,459.78 L852.41,459.98 L853.07,460.18 L853.73,460.37 L854.40,460.56 L855.06,460.75 L855.72,460.94 L856.38,461.12 L857.05,461.31 L857.71,461.49 L858.37,461.67 L859.04,461.85 L859.70,462.03 L860.37,462.20 L861.03,462.38 L861.70,462.55 L862.37,462.73 L863.03,462.90 L863.70,463.07 L864.37,463.24 L865.04,463.40 L865.70,463.57 L866.37,463.73 L867.04,463.89 L867.71,464.04 L868.38,464.20 L869.06,464.35 L869.73,464.49 L870.40,464.64 L871.08,464.78 L871.75,464.91 L872.43,465.04 L873.10,465.17 L873.78,465.29 L874.46,465.41 L875.14,465.52 L875.82,465.63 L876.51,465.73 L877.19,465.83 L877.87,465.92 L878.56,466.00 L879.24,466.08 L879.93,466.14 L880.62,466.21 L881.30,466.26 L881.99,466.31 L882.68,466.34 L883.37,466.37 L884.06,466.39 L884.74,466.41 L885.43,466.41 L886.12,466.40 L886.81,466.38 L887.49,466.36 L888.18,466.32 L888.87,466.27 L889.55,466.22 L890.24,466.15 L890.92,466.08 L891.60,465.99 L892.29,465.90 L892.97,465.79 L893.65,465.68 L894.33,465.56 L895.01,465.43 L895.69,465.29 L896.36,465.15 L897.04,464.99 L897.71,464.83 L898.39,464.65 L899.06,464.47 L899.72,464.28 L900.38,464.07 L901.04,463.86 L901.70,463.63 L902.35,463.39 L902.99,463.14 L903.62,462.87 L904.25,462.59 L904.87,462.29 L905.49,461.98 L906.09,461.65 L906.68,461.31 L907.27,460.95 L907.84,460.57 L908.41,460.18 L908.96,459.77 L909.51,459.35 L910.04,458.91 L910.57,458.46 L911.09,458.00 L911.59,457.53 L912.09,457.04 L912.58,456.55 L913.06,456.05 L913.52,455.54 L913.98,455.02 L914.43,454.49 L914.88,453.96 L915.31,453.42 L915.73,452.88 L916.14,452.32 L916.55,451.77 L916.94,451.20 L917.33,450.63 L917.71,450.06 L918.08,449.47 L918.44,448.89 L918.79,448.29 L919.14,447.70 L919.47,447.09 L919.80,446.48 L920.11,445.87 L920.42,445.25 L920.72,444.63 L921.02,444.01 L921.30,443.37 L921.57,442.74 L921.83,442.10 L922.09,441.46 L922.33,440.81 L922.56,440.16 L922.79,439.51 L923.00,438.85 L923.20,438.19 L923.39,437.53 L923.57,436.86 L923.73,436.19 L923.89,435.52 L924.03,434.85 L924.16,434.17 L924.28,433.49 L924.39,432.81 L924.48,432.13 L924.57,431.45 L924.64,430.76 L924.71,430.08 L924.76,429.39 L924.81,428.70 L924.84,428.01 L924.87,427.32 L924.89,426.63 L924.90,425.94 L924.90,425.25 L924.89,424.56 L924.88,423.87 L924.86,423.18 L924.83,422.49 L924.80,421.80 L924.75,421.12 L924.70,420.43 L924.64,419.74 L924.57,419.06 L924.50,418.37 L924.41,417.69 L924.32,417.01 L924.22,416.32 L924.11,415.65 L923.99,414.97 L923.87,414.29 L923.74,413.62 L923.60,412.94 L923.45,412.27 L923.30,411.60 L923.15,410.93 L922.99,410.26 L922.83,409.59 L922.67,408.92 L922.50,408.25 L922.34,407.58 L922.18,406.91 L922.02,406.24 L921.86,405.57 L921.70,404.90 L921.54,404.23 L921.38,403.56 L921.23,402.89 L921.07,402.22 L920.91,401.55 L920.75,400.88 L920.59,400.21 L920.43,399.54 L920.27,398.87 L920.10,398.21 L919.94,397.54 L919.77,396.87 L919.59,396.21 L919.42,395.54 L919.24,394.88 L919.06,394.21 L918.87,393.55 L918.68,392.89 L918.49,392.23 L918.29,391.57 L918.09,390.91 L917.88,390.25 L917.67,389.59 L917.46,388.94 L917.24,388.29 L917.02,387.63 L916.79,386.98 L916.56,386.34 L916.32,385.69 L916.08,385.04 L915.84,384.40 L915.59,383.76 L915.33,383.12 L915.07,382.48 L914.81,381.85 L914.54,381.21 L914.27,380.58 L913.99,379.95 L913.71,379.32 L913.42,378.70 L913.13,378.07 L912.83,377.45 L912.53,376.83 L912.23,376.22 L911.92,375.60 L911.60,374.99 L911.29,374.38 L910.96,373.77 L910.64,373.16 L910.31,372.56 L909.97,371.95 L909.64,371.35 L909.29,370.75 L908.95,370.16 L908.59,369.56 L908.24,368.97 L907.87,368.39 L907.51,367.80 L907.13,367.22 L906.75,366.65 L906.37,366.08 L905.97,365.52 L905.57,364.96 L905.16,364.40 L904.74,363.86 L904.32,363.32 L903.89,362.78 L903.45,362.25 L903.00,361.73 L902.55,361.21 L902.09,360.70 L901.62,360.19 L901.15,359.69 L900.68,359.19 L900.20,358.70 L899.71,358.21 L899.22,357.72 L898.73,357.23 L898.23,356.76 L897.73,356.28 L897.22,355.81 L896.71,355.35 L896.19,354.90 L895.66,354.46 L895.12,354.04 L894.57,353.62 L894.01,353.23 L893.44,352.84 L892.86,352.47 L892.26,352.12 L891.66,351.78 L891.05,351.46 L890.43,351.15 L889.81,350.86 L889.18,350.58 L888.54,350.31 L887.90,350.06 L887.26,349.82 L886.61,349.59 L885.96,349.37 L885.30,349.16 L884.64,348.96 L883.98,348.77 L883.32,348.58 L882.65,348.40 L881.98,348.22 L881.31,348.06 L880.64,347.91 L879.97,347.77 L879.29,347.65 L878.61,347.54 L877.93,347.45 L877.25,347.37 L876.57,347.31 L875.88,347.28 L875.19,347.26 L874.49,347.27 L873.80,347.30" fill="none" stroke="#ff1010" stroke-width="1.3" clip-path="url(#c4)"/>
<path d="M873.30,346.90 L872.61,346.91 L871.91,346.92 L871.22,346.95 L870.53,346.99 L869.84,347.04 L869.15,347.09 L868.46,347.16 L867.78,347.24 L867.09,347.33 L866.41,347.43 L865.72,347.53 L865.04,347.65 L864.37,347.78 L863.69,347.92 L863.01,348.06 L862.34,348.22 L861.67,348.38 L861.00,348.55 L860.33,348.73 L859.67,348.92 L859.01,349.12 L858.35,349.33 L857.69,349.55 L857.04,349.77 L856.39,350.00 L855.74,350.24 L855.09,350.49 L854.45,350.75 L853.81,351.01 L853.17,351.28 L852.54,351.56 L851.91,351.85 L851.28,352.14 L850.66,352.44 L850.04,352.75 L849.42,353.06 L848.81,353.38 L848.20,353.71 L847.60,354.04 L847.00,354.38 L846.40,354.73 L845.81,355.09 L845.22,355.44 L844.64,355.81 L844.05,356.18 L843.48,356.55 L842.90,356.94 L842.33,357.32 L841.76,357.71 L841.19,358.10 L840.63,358.50 L840.07,358.90 L839.51,359.31 L838.95,359.72 L838.40,360.13 L837.85,360.55 L837.30,360.97 L836.75,361.39 L836.21,361.81 L835.66,362.24 L835.12,362.67 L834.58,363.10 L834.04,363.53 L833.50,363.96 L832.96,364.40 L832.43,364.83 L831.89,365.27 L831.36,365.71 L830.83,366.15 L830.30,366.59 L829.77,367.03 L829.24,367.48 L828.71,367.92 L828.19,368.37 L827.67,368.82 L827.14,369.27 L826.62,369.72 L826.10,370.17 L825.58,370.62 L825.06,371.08 L824.54,371.53 L824.03,371.99 L823.51,372.45 L823.00,372.91 L822.49,373.37 L821.98,373.83 L821.47,374.29 L820.96,374.76 L820.45,375.22 L819.94,375.69 L819.44,376.16 L818.93,376.63 L818.43,377.10 L817.93,377.57 L817.43,378.04 L816.93,378.52 L816.43,378.99 L815.93,379.47 L815.44,379.95 L814.94,380.43 L814.45,380.91 L813.96,381.40 L813.47,381.88 L812.99,382.37 L812.50,382.86 L812.02,383.36 L811.54,383.85 L811.06,384.35 L810.58,384.85 L810.11,385.35 L809.63,385.86 L809.16,386.36 L808.69,386.87 L808.23,387.39 L807.77,387.90 L807.31,388.43 L806.86,388.95 L806.41,389.48 L805.97,390.01 L805.53,390.55 L805.11,391.09 L804.68,391.64 L804.27,392.19 L803.87,392.75 L803.47,393.31 L803.08,393.88 L802.71,394.46 L802.34,395.04 L801.98,395.63 L801.64,396.23 L801.31,396.83 L800.98,397.44 L800.68,398.06 L800.38,398.68 L800.09,399.31 L799.82,399.94 L799.55,400.58 L799.30,401.23 L799.07,401.88 L798.84,402.53 L798.63,403.19 L798.42,403.86 L798.23,404.52 L798.06,405.20 L797.89,405.87 L797.74,406.55 L797.61,407.23 L797.49,407.92 L797.38,408.61 L797.29,409.29 L797.22,409.98 L797.16,410.67 L797.12,411.37 L797.10,412.06 L797.10,412.75 L797.11,413.44 L797.15,414.13 L797.20,414.82 L797.28,415.51 L797.37,416.20 L797.48,416.88 L797.61,417.56 L797.76,418.24 L797.93,418.92 L798.12,419.59 L798.32,420.25 L798.54,420.91 L798.78,421.56 L799.03,422.21 L799.30,422.85 L799.59,423.48 L799.89,424.11 L800.21,424.72 L800.54,425.33 L800.88,425.93 L801.24,426.52 L801.61,427.10 L801.99,427.67 L802.39,428.23 L802.80,428.79 L803.21,429.34 L803.64,429.88 L804.08,430.42 L804.52,430.95 L804.98,431.47 L805.44,431.99 L805.91,432.50 L806.39,433.01 L806.87,433.51 L807.35,434.00 L807.85,434.50 L808.34,434.99 L808.84,435.47 L809.34,435.95 L809.85,436.43 L810.36,436.90 L810.87,437.38 L811.38,437.84 L811.89,438.31 L812.41,438.77 L812.93,439.23 L813.45,439.68 L813.98,440.13 L814.51,440.58 L815.04,441.02 L815.57,441.46 L816.11,441.90 L816.64,442.33 L817.19,442.75 L817.73,443.18 L818.28,443.60 L818.83,444.01 L819.38,444.42 L819.94,444.82 L820.50,445.22 L821.06,445.62 L821.63,446.01 L822.20,446.39 L822.77,446.77 L823.35,447.15 L823.93,447.52 L824.52,447.89 L825.10,448.25 L825.69,448.60 L826.29,448.95 L826.88,449.29 L827.48,449.64 L828.08,449.97 L828.69,450.30 L829.30,450.63 L829.91,450.95 L830.52,451.26 L831.14,451.58 L831.76,451.88 L832.38,452.19 L833.00,452.49 L833.63,452.78 L834.25,453.07 L834.88,453.36 L835.51,453.64 L836.15,453.92 L836.78,454.19 L837.42,454.47 L838.06,454.73 L838.70,455.00 L839.34,455.26 L839.98,455.51 L840.63,455.76 L841.27,456.01 L841.92,456.26 L842.56,456.50 L843.21,456.74 L843.86,456.97 L844.51,457.21 L845.16,457.44 L845.82,457.66 L846.47,457.89 L847.12,458.11 L847.78,458.32 L848.43,458.54 L849.09,458.75 L849.75,458.96 L850.41,459.16 L851.07,459.36 L851.73,459.56 L852.39,459.76 L853.05,459.96 L853.71,460.15 L854.37,460.34 L855.04,460.53 L855.70,460.71 L856.37,460.89 L857.03,461.07 L857.70,461.25 L858.36,461.43 L859.03,461.60 L859.70,461.77 L860.37,461.94 L861.04,462.11 L861.71,462.27 L862.38,462.44 L863.05,462.60 L863.72,462.76 L864.39,462.92 L865.06,463.07 L865.73,463.23 L866.41,463.38 L867.08,463.53 L867.75,463.68 L868.43,463.83 L869.10,463.98 L869.77,464.12 L870.45,464.26 L871.12,464.41 L871.80,464.55 L872.47,464.69 L873.15,464.83 L873.82,464.96 L874.50,465.10" fill="none" stroke="#ff1010" stroke-width="1.3" clip-path="url(#c4)"/>
<rect x="650.8" y="334.6" width="302.0" height="145.7" fill="none" stroke="#000" stroke-width="1.35"/>
<circle cx="678.5" cy="406.5" r="3.3" fill="#ff0808" stroke="#3a0808" stroke-width="1.1"/><path d="M675.9 406.5 h5.2 M678.5 403.9 v5.2" stroke="#e06a6a" stroke-width="0.9" fill="none"/>
<text x="624.58" y="466.2" font-size="11" fill="#111" stroke="#111" textLength="16.38" lengthAdjust="spacingAndGlyphs">-15</text>
<text x="624.52" y="447.2" font-size="11" fill="#111" stroke="#111" textLength="16.38" lengthAdjust="spacingAndGlyphs">-10</text>
<text x="630.87" y="428.2" font-size="11" fill="#111" stroke="#111" textLength="10.07" lengthAdjust="spacingAndGlyphs">-5</text>
<text x="634.61" y="409.2" font-size="11" fill="#111" stroke="#111" textLength="6.30" lengthAdjust="spacingAndGlyphs">0</text>
<text x="634.67" y="390.2" font-size="11" fill="#111" stroke="#111" textLength="6.30" lengthAdjust="spacingAndGlyphs">5</text>
<text x="628.32" y="372.2" font-size="11" fill="#111" stroke="#111" textLength="12.60" lengthAdjust="spacingAndGlyphs">10</text>
<text x="628.38" y="353.2" font-size="11" fill="#111" stroke="#111" textLength="12.60" lengthAdjust="spacingAndGlyphs">15</text>
<text x="674.46" y="498.0" font-size="11" fill="#111" stroke="#111" textLength="6.30" lengthAdjust="spacingAndGlyphs">0</text>
<text x="732.26" y="498.0" font-size="11" fill="#111" stroke="#111" textLength="12.60" lengthAdjust="spacingAndGlyphs">20</text>
<text x="793.46" y="498.0" font-size="11" fill="#111" stroke="#111" textLength="12.60" lengthAdjust="spacingAndGlyphs">40</text>
<text x="854.32" y="498.0" font-size="11" fill="#111" stroke="#111" textLength="12.60" lengthAdjust="spacingAndGlyphs">60</text>
<text x="915.40" y="498.0" font-size="11" fill="#111" stroke="#111" textLength="12.60" lengthAdjust="spacingAndGlyphs">80</text>
<text x="704.58" y="321.9" font-size="13.5" fill="#ff1a1a" stroke="#ff1a1a" textLength="149.85" lengthAdjust="spacingAndGlyphs">Joint - Angular Velocity</text>
<text x="702.02" y="514.8" font-size="12" fill="#111" stroke="#111" textLength="197.70" lengthAdjust="spacingAndGlyphs">Joint 3 - WY - Angular Velocity (rpm)</text>
<rect x="769.5" y="525" width="9" height="8.5" fill="#ff0000"/>
<text x="787.35" y="532.7" font-size="12" fill="#111" stroke="#111" textLength="16.26" lengthAdjust="spacingAndGlyphs">WY</text>
<clipPath id="cy4"><rect x="596" y="311.7" width="30" height="200"/></clipPath>
<g clip-path="url(#cy4)"><text transform="translate(613.3,506.28) rotate(-90)" font-size="12" fill="#111" stroke="#111" textLength="196.90" lengthAdjust="spacingAndGlyphs">Joint 1 - WY - Angular Velocity (rpm)</text></g>
</svg>

<!-- context menu -->
<div id="menu">
  <div class="abs" style="left:2px;top:19px;width:19px;height:17px;border:1px solid #b7c9d3;background:#cfe3ee;"></div>
  <svg class="abs" style="left:7px;top:23px" width="12" height="10" viewBox="0 0 12 10"><path d="M2.2 4.9 L4.5 7.2 L9.4 2.3" fill="none" stroke="#111" stroke-width="1.7"/></svg>
  <div class="abs" style="left:26px;top:18px;width:109px;height:19px;background:#ffe600;"></div>
  <svg class="abs" style="left:136px;top:7px" width="7" height="8" viewBox="0 0 7 8"><path d="M1.6 0.9 L4.7 3.9 L1.6 6.9" fill="none" stroke="#8a8a8a" stroke-width="1.7"/></svg>
</div>
<div class="t" style="left:701.68px;top:457.06px;font-size:12.8px;transform:scaleX(0.7980);">Export</div>
<div class="t" style="left:701.93px;top:476.06px;font-size:12.8px;transform:scaleX(0.8179);">Show during analysis</div>
<div class="t" style="left:701.58px;top:495.06px;font-size:12.8px;transform:scaleX(0.8048);">Freeze</div>
</body>
</html>
